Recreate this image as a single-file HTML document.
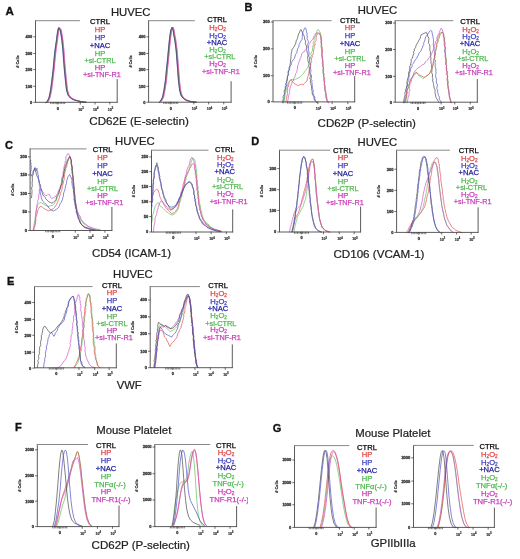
<!DOCTYPE html>
<html><head><meta charset="utf-8"><style>
html,body{margin:0;padding:0;background:#fff;}
body{width:520px;height:559px;overflow:hidden;}
svg{display:block;font-family:"Liberation Sans", sans-serif;filter:blur(0.25px);}
svg path{fill:none;stroke-width:0.7;stroke-linejoin:round;stroke-linecap:round;}
svg path.ax{stroke:#484848;stroke-width:0.9;}
svg path.tp{stroke:#888;stroke-width:1;}
svg path.tk{stroke:#484848;stroke-width:0.8;}
svg path.mt{stroke:#444;stroke-width:0.7;}
svg text.lg{stroke-width:0.3;paint-order:stroke;}
svg text.tt{stroke-width:0.25;}
</style></head><body>
<svg width="520" height="559" viewBox="0 0 520 559">
<path d="M46.6 102.5 L48 101.5 L49.9 97 L51.3 90 L52.6 80 L53.8 70 L54.7 60 L55.75 50 L57.2 40 L57.8 35 L58.6 30 L59.3 27.7 L60.9 30 L61.8 35 L62.55 40 L63.6 50 L64.3 60 L65.1 70 L66.1 80 L67.2 90 L68.7 95 L71.1 98 L74.9 100 L80.7 101.5 L86.3 102.3" stroke="#e05050" />
<path d="M46.2 102.5 L47.6 101.5 L49.5 97 L50.9 90 L52.2 80 L53.4 70 L54.3 60 L55.35 50 L56.8 40 L57.4 35 L58.2 30 L58.9 27.7 L60.5 30 L61.4 35 L62.15 40 L63.2 50 L63.9 60 L64.7 70 L65.7 80 L66.8 90 L68.3 95 L70.7 98 L74.5 100 L80.3 101.5 L85.9 102.3" stroke="#60c060" />
<path d="M45.8 102.5 L47.2 101.5 L49.1 97 L50.5 90 L51.8 80 L53 70 L53.9 60 L54.95 50 L56.4 40 L57 35 L57.8 30 L58.5 27.7 L60.1 30 L61 35 L61.75 40 L62.8 50 L63.5 60 L64.3 70 L65.3 80 L66.4 90 L67.9 95 L70.3 98 L74.1 100 L79.9 101.5 L85.5 102.3" stroke="#5050c8" />
<path d="M47 102.5 L48.4 101.5 L50.3 97 L51.7 90 L53 80 L54.2 70 L55.1 60 L56.15 50 L57.6 40 L58.2 35 L59 30 L59.7 27.7 L61.3 30 L62.2 35 L62.95 40 L64 50 L64.7 60 L65.5 70 L66.5 80 L67.6 90 L69.1 95 L71.5 98 L75.3 100 L81.1 101.5 L86.7 102.3" stroke="#d050c8" />
<path d="M46 102.5 L47.4 101.5 L49.3 97 L50.7 90 L52 80 L53.2 70 L54.1 60 L55.15 50 L56.6 40 L57.2 35 L58 30 L58.7 27.7 L60.3 30 L61.2 35 L61.95 40 L63 50 L63.7 60 L64.5 70 L65.5 80 L66.6 90 L68.1 95 L70.5 98 L74.3 100 L80.1 101.5 L85.7 102.3" stroke="#484848" />
<path class="ax" d="M35.5 20.7 V102.3 H117.2" />
<path class="tp" d="M35.5 20.7 H79.5" />
<path class="ax" d="M117.2 79.5 V102.3" />
<path class="tk" d="M33.7 36.8 H35.5" />
<text x="32.3" y="38.2" fill="#333" font-size="4" text-anchor="end" font-weight="bold" stroke="#333" stroke-width="0.3">400</text>
<path class="tk" d="M33.7 53.5 H35.5" />
<text x="32.3" y="54.9" fill="#333" font-size="4" text-anchor="end" font-weight="bold" stroke="#333" stroke-width="0.3">300</text>
<path class="tk" d="M33.7 69.6 H35.5" />
<text x="32.3" y="71" fill="#333" font-size="4" text-anchor="end" font-weight="bold" stroke="#333" stroke-width="0.3">200</text>
<path class="tk" d="M33.7 86.3 H35.5" />
<text x="32.3" y="87.7" fill="#333" font-size="4" text-anchor="end" font-weight="bold" stroke="#333" stroke-width="0.3">100</text>
<path class="tk" d="M33.7 102.3 H35.5" />
<text x="32.3" y="103.7" fill="#333" font-size="4" text-anchor="end" font-weight="bold" stroke="#333" stroke-width="0.3">0</text>
<text x="0" y="0" font-size="3.8" font-weight="bold" fill="#333" stroke="#333" stroke-width="0.2" text-anchor="middle" transform="translate(19 61.5) rotate(-90)"># Cells</text>
<path class="tk" d="M57.7 102.3 V104.1" />
<text x="57.7" y="109.7" fill="#333" font-size="3.8" text-anchor="middle" font-weight="bold" stroke="#333" stroke-width="0.3">0</text>
<path class="tk" d="M80.25 102.3 V104.1" />
<text x="78.25" y="110.5" font-size="3.6" font-weight="bold" fill="#333" stroke="#333" stroke-width="0.2" text-anchor="start">10<tspan font-size="2.6" dy="-1.6">3</tspan></text>
<path class="tk" d="M95.05 102.3 V104.1" />
<text x="93.05" y="110.5" font-size="3.6" font-weight="bold" fill="#333" stroke="#333" stroke-width="0.2" text-anchor="start">10<tspan font-size="2.6" dy="-1.6">4</tspan></text>
<path class="tk" d="M109.85 102.3 V104.1" />
<text x="107.85" y="110.5" font-size="3.6" font-weight="bold" fill="#333" stroke="#333" stroke-width="0.2" text-anchor="start">10<tspan font-size="2.6" dy="-1.6">5</tspan></text>
<path class="mt" d="M50.7 102.3 V103.7" />
<path class="mt" d="M52.2 102.3 V103.7" />
<path class="mt" d="M53.7 102.3 V103.7" />
<path class="mt" d="M55.2 102.3 V103.7" />
<path class="mt" d="M56.7 102.3 V103.7" />
<path class="mt" d="M58.7 102.3 V103.7" />
<path class="mt" d="M60.2 102.3 V103.7" />
<path class="mt" d="M61.7 102.3 V103.7" />
<path class="mt" d="M63.2 102.3 V103.7" />
<path class="mt" d="M64.7 102.3 V103.7" />
<text x="100" y="24.4" fill="#000" font-size="7.6" text-anchor="middle" font-weight="normal" stroke="#000" stroke-width="0.25">CTRL</text>
<text x="100" y="32.05" fill="#e04848" font-size="7.6" text-anchor="middle" font-weight="normal" stroke="#e04848" stroke-width="0.25">HP</text>
<text x="100" y="39.9" fill="#4040c0" font-size="7.6" text-anchor="middle" font-weight="normal" stroke="#4040c0" stroke-width="0.25">HP</text>
<text x="100" y="48.05" fill="#1c1c98" font-size="7.6" text-anchor="middle" font-weight="normal" stroke="#1c1c98" stroke-width="0.25">+NAC</text>
<text x="100" y="55.9" fill="#50b850" font-size="7.6" text-anchor="middle" font-weight="normal" stroke="#50b850" stroke-width="0.25">HP</text>
<text x="100" y="63.1" fill="#50b850" font-size="7.6" text-anchor="middle" font-weight="normal" textLength="31.2" lengthAdjust="spacingAndGlyphs" stroke="#50b850" stroke-width="0.25">+si-CTRL</text>
<text x="100" y="69.8" fill="#c840b8" font-size="7.6" text-anchor="middle" font-weight="normal" stroke="#c840b8" stroke-width="0.25">HP</text>
<text x="101.9" y="76.8" fill="#c840b8" font-size="7.6" text-anchor="middle" font-weight="normal" textLength="37.8" lengthAdjust="spacingAndGlyphs" stroke="#c840b8" stroke-width="0.25">+si-TNF-R1</text>
<path d="M159.9 102.3 L161.3 101 L163.3 97 L164.7 90 L166.2 80 L167.1 70 L168.2 60 L169.1 50 L170.1 40 L170.7 35 L171.5 30 L172.8 27.4 L173.8 30 L174.5 35 L175.5 40 L176.8 50 L177.6 60 L178.4 70 L179.1 80 L180.3 90 L181.55 95 L183.5 98 L186.3 100 L190.7 101.5 L196.3 102.2" stroke="#e05050" />
<path d="M159.5 102.3 L160.9 101 L162.9 97 L164.3 90 L165.8 80 L166.7 70 L167.8 60 L168.7 50 L169.7 40 L170.3 35 L171.1 30 L172.4 27.4 L173.4 30 L174.1 35 L175.1 40 L176.4 50 L177.2 60 L178 70 L178.7 80 L179.9 90 L181.15 95 L183.1 98 L185.9 100 L190.3 101.5 L195.9 102.2" stroke="#60c060" />
<path d="M159.1 102.3 L160.5 101 L162.5 97 L163.9 90 L165.4 80 L166.3 70 L167.4 60 L168.3 50 L169.3 40 L169.9 35 L170.7 30 L172 27.4 L173 30 L173.7 35 L174.7 40 L176 50 L176.8 60 L177.6 70 L178.3 80 L179.5 90 L180.75 95 L182.7 98 L185.5 100 L189.9 101.5 L195.5 102.2" stroke="#5050c8" />
<path d="M160.3 102.3 L161.7 101 L163.7 97 L165.1 90 L166.6 80 L167.5 70 L168.6 60 L169.5 50 L170.5 40 L171.1 35 L171.9 30 L173.2 27.4 L174.2 30 L174.9 35 L175.9 40 L177.2 50 L178 60 L178.8 70 L179.5 80 L180.7 90 L181.95 95 L183.9 98 L186.7 100 L191.1 101.5 L196.7 102.2" stroke="#d050c8" />
<path d="M159.3 102.3 L160.7 101 L162.7 97 L164.1 90 L165.6 80 L166.5 70 L167.6 60 L168.5 50 L169.5 40 L170.1 35 L170.9 30 L172.2 27.4 L173.2 30 L173.9 35 L174.9 40 L176.2 50 L177 60 L177.8 70 L178.5 80 L179.7 90 L180.95 95 L182.9 98 L185.7 100 L190.1 101.5 L195.7 102.2" stroke="#484848" />
<path class="ax" d="M148.6 20.7 V102.2 H231.1" />
<path class="tp" d="M148.6 20.7 H194.5" />
<path class="ax" d="M231.1 81.6 V102.2" />
<path class="tk" d="M146.8 36.8 H148.6" />
<text x="145.4" y="38.2" fill="#333" font-size="4" text-anchor="end" font-weight="bold" stroke="#333" stroke-width="0.3">400</text>
<path class="tk" d="M146.8 53.5 H148.6" />
<text x="145.4" y="54.9" fill="#333" font-size="4" text-anchor="end" font-weight="bold" stroke="#333" stroke-width="0.3">300</text>
<path class="tk" d="M146.8 69.6 H148.6" />
<text x="145.4" y="71" fill="#333" font-size="4" text-anchor="end" font-weight="bold" stroke="#333" stroke-width="0.3">200</text>
<path class="tk" d="M146.8 86.3 H148.6" />
<text x="145.4" y="87.7" fill="#333" font-size="4" text-anchor="end" font-weight="bold" stroke="#333" stroke-width="0.3">100</text>
<path class="tk" d="M146.8 102.2 H148.6" />
<text x="145.4" y="103.6" fill="#333" font-size="4" text-anchor="end" font-weight="bold" stroke="#333" stroke-width="0.3">0</text>
<text x="0" y="0" font-size="3.8" font-weight="bold" fill="#333" stroke="#333" stroke-width="0.2" text-anchor="middle" transform="translate(132.1 61.45) rotate(-90)"># Cells</text>
<path class="tk" d="M170.8 102.2 V104" />
<text x="170.8" y="109.6" fill="#333" font-size="3.8" text-anchor="middle" font-weight="bold" stroke="#333" stroke-width="0.3">0</text>
<path class="tk" d="M193.85 102.2 V104" />
<text x="191.85" y="110.4" font-size="3.6" font-weight="bold" fill="#333" stroke="#333" stroke-width="0.2" text-anchor="start">10<tspan font-size="2.6" dy="-1.6">3</tspan></text>
<path class="tk" d="M208.65 102.2 V104" />
<text x="206.65" y="110.4" font-size="3.6" font-weight="bold" fill="#333" stroke="#333" stroke-width="0.2" text-anchor="start">10<tspan font-size="2.6" dy="-1.6">4</tspan></text>
<path class="tk" d="M223.75 102.2 V104" />
<text x="221.75" y="110.4" font-size="3.6" font-weight="bold" fill="#333" stroke="#333" stroke-width="0.2" text-anchor="start">10<tspan font-size="2.6" dy="-1.6">5</tspan></text>
<path class="mt" d="M163.8 102.2 V103.6" />
<path class="mt" d="M165.3 102.2 V103.6" />
<path class="mt" d="M166.8 102.2 V103.6" />
<path class="mt" d="M168.3 102.2 V103.6" />
<path class="mt" d="M169.8 102.2 V103.6" />
<path class="mt" d="M171.8 102.2 V103.6" />
<path class="mt" d="M173.3 102.2 V103.6" />
<path class="mt" d="M174.8 102.2 V103.6" />
<path class="mt" d="M176.3 102.2 V103.6" />
<path class="mt" d="M177.8 102.2 V103.6" />
<text x="217.1" y="21.8" fill="#000" font-size="7.6" text-anchor="middle" font-weight="normal" stroke="#000" stroke-width="0.25">CTRL</text>
<text x="217.6" y="29.8" fill="#e04848" font-size="7.6" text-anchor="middle" font-weight="normal" stroke="#e04848" stroke-width="0.25">H<tspan font-size="4.71" dy="1">2</tspan><tspan dy="-1">O</tspan><tspan font-size="4.71" dy="1">2</tspan></text>
<text x="217.6" y="37.5" fill="#4040c0" font-size="7.6" text-anchor="middle" font-weight="normal" stroke="#4040c0" stroke-width="0.25">H<tspan font-size="4.71" dy="1">2</tspan><tspan dy="-1">O</tspan><tspan font-size="4.71" dy="1">2</tspan></text>
<text x="217.1" y="44.5" fill="#1c1c98" font-size="7.6" text-anchor="middle" font-weight="normal" stroke="#1c1c98" stroke-width="0.25">+NAC</text>
<text x="217.6" y="51.8" fill="#50b850" font-size="7.6" text-anchor="middle" font-weight="normal" stroke="#50b850" stroke-width="0.25">H<tspan font-size="4.71" dy="1">2</tspan><tspan dy="-1">O</tspan><tspan font-size="4.71" dy="1">2</tspan></text>
<text x="219.8" y="59.2" fill="#50b850" font-size="7.6" text-anchor="middle" font-weight="normal" textLength="31.2" lengthAdjust="spacingAndGlyphs" stroke="#50b850" stroke-width="0.25">+si-CTRL</text>
<text x="217.6" y="66" fill="#c840b8" font-size="7.6" text-anchor="middle" font-weight="normal" stroke="#c840b8" stroke-width="0.25">H<tspan font-size="4.71" dy="1">2</tspan><tspan dy="-1">O</tspan><tspan font-size="4.71" dy="1">2</tspan></text>
<text x="221" y="73.7" fill="#c840b8" font-size="7.6" text-anchor="middle" font-weight="normal" textLength="37.8" lengthAdjust="spacingAndGlyphs" stroke="#c840b8" stroke-width="0.25">+si-TNF-R1</text>
<path d="M282.47 102.76 L282.73 101.31 L283 99.87 L283.26 98.43 L283.03 96.56 L283.34 95.85 L284.53 94.13 L284.33 92.65 L284.07 91.55 L284.75 89.93 L285.57 87.99 L285.03 87.2 L286.08 85.17 L285.42 84.51 L286.49 82.3 L286.31 81.49 L286.66 80.21 L287.54 78.08 L287.14 77.1 L288.18 75.65 L288.44 73.4 L288.23 72.71 L289.02 70.46 L289 69.32 L289.15 67.46 L290.03 65.64 L290.03 64.95 L290.22 63.54 L290.41 61.91 L290.55 59.99 L290.98 58.26 L290.92 56.61 L291.26 55.03 L291.03 54.21 L291.25 53.44 L291.8 51.4 L291.8 49.88 L293.04 48.09 L293.66 47.55 L294.16 46.43 L295.22 44.44 L295.9 43 L296.06 41.08 L296.77 39.77 L297.4 38.7 L297.62 37.29 L298.33 35.11 L298.48 34.05 L299.8 31.9 L299.88 30.44 L301.13 29.66 L302.22 32 L302.84 33.75 L303.77 35.11 L304.33 36.83 L304.55 38.22 L304.45 38.94 L305.62 40.94 L305.38 42.59 L305.33 43.8 L306.1 45.22 L306.51 46 L306.45 47.63 L306.65 49.52 L306.8 50.44 L307.13 52.12 L307.81 53.42 L307.98 55.56 L307.66 56.88 L307.75 58.57 L308.02 60.59 L308.26 61.98 L309 63.57 L309.05 64.17 L308.64 65.61 L309.36 67.46 L309.21 69.32 L309.75 70.05 L309.01 71.94 L309.82 73.62 L310.02 74.26 L310.53 76.79 L309.87 78.09 L309.92 79.13 L310.73 79.84 L310.3 82.25 L310.77 83.32 L311.11 85.19 L311.57 86.06 L311.56 88.48 L311.76 90.24 L312.25 91.64 L312.13 92.77 L312.33 94.21 L313.26 95.82 L313.9 96.84 L314.07 98.87 L314.66 100.43 L315.82 101.59 L316.99 102.76" stroke="#484848" />
<path d="M283.55 102.76 L283.78 101.31 L284 99.87 L284.22 98.43 L284.38 96.81 L284.5 95.13 L284.59 94.26 L285.11 92.65 L285.07 91.18 L286.07 88.96 L285.36 88.61 L286.3 85.92 L286.8 84.75 L286.66 83.32 L286.89 81.66 L287.44 80.33 L287.27 78.3 L287.3 77.39 L287.63 76.12 L288.22 73.6 L288.07 73.07 L288.22 70.88 L289.42 69.65 L289.77 67.77 L290.07 66.12 L291.33 64.66 L291.32 62.55 L292.17 61.72 L292.88 59.99 L294.44 58.44 L294.85 56.75 L295.5 54.71 L296 53.77 L296.79 52.86 L297.05 51.13 L297.55 49.1 L298.41 47.44 L298.81 46.6 L299.11 44.44 L300.1 42.66 L300.66 41.33 L301.91 39.77 L302.22 37.44 L302.27 36.6 L302.43 33.96 L302.83 32.75 L303.11 31.68 L303.77 30.44 L304.27 28.63 L305.33 27.64 L305.76 28.71 L306.42 30.44 L306.52 31.8 L307.3 34.08 L306.7 34.49 L307.35 36.66 L306.98 38.77 L308.03 40.36 L308.26 41.16 L308.28 42.88 L307.5 44.53 L308.43 46.52 L308.43 48.01 L308.44 49.1 L308.54 50.62 L308.83 51.76 L309.17 53.62 L308.77 55.07 L308.74 56.33 L309.77 57.95 L309.53 59.99 L309.69 61.55 L310.21 63.59 L310.51 65.13 L310.61 65.88 L310.13 67.86 L310.98 69.92 L310.85 71.34 L310.77 72.43 L310.48 73.42 L311.27 74.95 L311.54 77.04 L311.15 78.42 L311.3 79.4 L312.17 80.68 L311.62 81.6 L312.1 83.14 L312.12 84.48 L312.33 86.43 L312.37 88.13 L312.78 89.18 L313.35 90.95 L312.84 92.23 L313.62 94.41 L313.88 95.76 L314.84 97.07 L314.92 98.87 L315.44 100.43 L316.6 101.59 L317.77 102.76" stroke="#5050c8" />
<path d="M283.55 102.76 L283.89 101.31 L284.22 99.87 L284.55 98.43 L284.96 97.12 L285.1 95.09 L285.09 93.99 L285.89 92.65 L286.2 91.16 L285.97 89.94 L286.47 88.36 L287.57 86.01 L287.44 84.87 L288.15 83.68 L289 81.76 L290.55 80.21 L292.11 79.43 L293.66 80.21 L295.22 79.43 L296.77 78.65 L298.33 77.88 L299.88 77.1 L301.44 75.54 L302.99 73.99 L303.82 73.2 L304.55 71.65 L305.88 70.48 L306.1 69.32 L307.66 67.77 L307.76 66.61 L308.8 65.09 L309.21 63.1 L309.87 61.06 L309.48 60 L310.26 58.73 L310.77 56.88 L311.23 55.33 L310.93 54.3 L311.16 52.09 L312.52 51 L312.33 49.1 L312.8 47.22 L312.57 46.06 L313.67 44.92 L313.02 43.14 L313.88 41.33 L314.02 40.41 L314.12 37.87 L314.82 37.29 L315.44 35.11 L316.19 34.25 L316.88 32.18 L316.99 30.44 L318.55 29.66 L319.55 31.42 L320.1 32 L320.23 33.11 L320.74 35.59 L320.35 36.9 L320.88 38.22 L320.78 39.09 L321.6 41.97 L320.98 42.25 L321.86 44.22 L320.98 46.03 L321.1 47.17 L321.66 49.1 L321.82 51.11 L321.9 52.63 L321.83 53.96 L322.04 55.03 L322.09 56.66 L322.42 58.61 L322.57 60.31 L322.43 61.55 L322.32 63.55 L323.01 64.82 L322.78 66.11 L323.11 67.04 L323.24 69.22 L322.63 69.64 L323.14 71.93 L322.82 73.42 L323.97 74.34 L323.52 75.54 L323.98 76.88 L324.13 78.46 L323.54 80.24 L324.69 81.59 L324.41 83.51 L323.96 84.88 L325.16 86.56 L324.77 87.98 L324.65 90.05 L325.29 91.1 L325.6 92.12 L325.35 93.82 L325.37 96.1 L325.55 97.8 L326.32 98.87 L327.1 100.81 L327.88 102.76" stroke="#60c060" />
<path d="M285.89 102.76 L286.08 101.3 L286.28 99.84 L286.47 98.38 L286.79 96.81 L287.1 96.09 L287.38 93.45 L287.57 92.23 L287.44 91.09 L287.71 90.19 L287.52 87.8 L288.46 86.55 L288.69 84.87 L289.13 82.7 L289.77 80.99 L291.02 79.43 L292.42 81.76 L293.97 83.32 L295.22 84.1 L296.77 84.87 L298.33 85.65 L299.88 84.87 L301.44 84.1 L302.99 84.87 L304.55 83.32 L306.1 81.76 L307 80.81 L307.36 78.37 L307.66 77.1 L308.42 75.48 L308.48 73.5 L309.21 72.43 L309.35 70.32 L309.43 69.82 L310.68 67.35 L310.42 66.27 L310.77 64.66 L310.79 63.3 L311.86 61.07 L311.31 60.33 L311.56 58.2 L312.33 56.88 L312.15 55.5 L313.21 53.91 L313.35 52.48 L313.46 51.14 L313.88 49.1 L314.23 47.61 L314.18 45.4 L315.17 45.11 L314.82 42.26 L315.44 41.33 L316.19 40.47 L316.02 38.35 L316.32 36.01 L316.99 35.11 L317.73 33.75 L318.55 32.77 L320.1 33.55 L320.18 34.8 L321.26 36.9 L321.19 38.22 L321.78 40.33 L321.05 41.67 L321.5 42.82 L321.77 44.22 L321.3 45.64 L322.23 47.39 L322.12 49.1 L322.66 50.99 L322.19 52.12 L321.94 54.21 L321.98 55.81 L322.06 57.17 L322.27 58.8 L323.07 60.68 L322.9 61.55 L322.73 63.16 L322.76 64.32 L323.08 66.37 L323.72 68.08 L323.31 69.68 L323.91 70.26 L323.28 71.79 L323.83 73.99 L323.51 76.01 L323.62 76.77 L324.7 78.45 L324.54 80.49 L324.64 81.93 L324.33 83.29 L325.06 85.33 L324.77 86.43 L325.38 88.28 L324.92 89.48 L325.9 91.27 L325.81 92.87 L326.32 93.71 L326.01 95.76 L326.83 96.94 L326.74 98.87 L327.1 100.43 L327.88 101.59 L328.65 102.76" stroke="#e05050" />
<path d="M287.44 102.76 L287.7 101.33 L287.96 99.91 L288.22 98.48 L288.33 97.43 L288.72 95.96 L289 94.21 L289.8 92.58 L289.5 91.48 L289.86 89.31 L290.06 88.16 L290.55 86.43 L291.16 84.93 L291.72 83.46 L292.11 81.76 L293.37 80.54 L293.66 78.65 L294.96 76.92 L295.22 75.54 L295.61 73.81 L296.77 72.43 L296.94 71.04 L297.21 69.58 L297.47 68.12 L297.5 65.87 L298.33 64.66 L298.5 63.54 L299.19 61.28 L299.88 59.99 L300.07 58.75 L300.86 57.31 L301.44 55.33 L301.81 53.63 L302.99 52.21 L304.55 51.44 L304.79 50.53 L306.1 49.1 L306.84 48.18 L307.66 46.77 L308.35 45.71 L309.21 44.44 L309.84 43.18 L310.77 41.33 L312.33 39.77 L312.99 38.88 L313.88 36.66 L315.01 35.31 L315.44 33.55 L316.99 32.77 L318.55 33.55 L320.1 35.11 L320.9 36.15 L321.11 38.2 L320.88 39.77 L321.35 41.14 L320.91 42.96 L321.45 44.93 L321.38 45.8 L321.66 47.55 L321.65 49.52 L321.43 50.18 L322.08 52.32 L321.85 53.13 L321.99 55.09 L322.43 56.88 L322.66 58.89 L322.09 59.85 L323.03 61.25 L322.99 63.05 L323.22 64.47 L322.59 66.09 L323.44 67.86 L323.21 69.32 L323.32 71.42 L323.31 72.64 L324 73.11 L323.79 74.75 L323.93 76.72 L323.76 77.82 L323.7 79.17 L323.88 79.9 L324.12 81.43 L324.46 83.32 L324.45 84.76 L324.73 86.85 L324.59 88.18 L324.99 89.43 L325 90.98 L325.54 92.65 L325.96 94.6 L326.4 95.49 L326.32 96.74 L326.79 98.87 L327.1 100.43 L327.88 101.59 L328.65 102.76" stroke="#d050c8" />
<path class="ax" d="M273 20.7 V101.9 H354.7" />
<path class="tp" d="M273 20.7 H331.2" />
<path class="ax" d="M354.7 76.5 V101.9" />
<path class="tk" d="M271.2 22 H273" />
<text x="269.8" y="23.4" fill="#333" font-size="4" text-anchor="end" font-weight="bold" stroke="#333" stroke-width="0.3">300</text>
<path class="tk" d="M271.2 48.8 H273" />
<text x="269.8" y="50.2" fill="#333" font-size="4" text-anchor="end" font-weight="bold" stroke="#333" stroke-width="0.3">200</text>
<path class="tk" d="M271.2 75.7 H273" />
<text x="269.8" y="77.1" fill="#333" font-size="4" text-anchor="end" font-weight="bold" stroke="#333" stroke-width="0.3">100</text>
<path class="tk" d="M271.2 101.7 H273" />
<text x="269.8" y="103.1" fill="#333" font-size="4" text-anchor="end" font-weight="bold" stroke="#333" stroke-width="0.3">0</text>
<text x="0" y="0" font-size="3.8" font-weight="bold" fill="#333" stroke="#333" stroke-width="0.2" text-anchor="middle" transform="translate(256.5 61.3) rotate(-90)"># Cells</text>
<path class="tk" d="M294.7 101.9 V103.7" />
<text x="294.7" y="109.3" fill="#333" font-size="3.8" text-anchor="middle" font-weight="bold" stroke="#333" stroke-width="0.3">0</text>
<path class="tk" d="M317.85 101.9 V103.7" />
<text x="315.85" y="110.1" font-size="3.6" font-weight="bold" fill="#333" stroke="#333" stroke-width="0.2" text-anchor="start">10<tspan font-size="2.6" dy="-1.6">3</tspan></text>
<path class="tk" d="M332.15 101.9 V103.7" />
<text x="330.15" y="110.1" font-size="3.6" font-weight="bold" fill="#333" stroke="#333" stroke-width="0.2" text-anchor="start">10<tspan font-size="2.6" dy="-1.6">4</tspan></text>
<path class="tk" d="M347.85 101.9 V103.7" />
<text x="345.85" y="110.1" font-size="3.6" font-weight="bold" fill="#333" stroke="#333" stroke-width="0.2" text-anchor="start">10<tspan font-size="2.6" dy="-1.6">5</tspan></text>
<path class="mt" d="M287.7 101.9 V103.3" />
<path class="mt" d="M289.2 101.9 V103.3" />
<path class="mt" d="M290.7 101.9 V103.3" />
<path class="mt" d="M292.2 101.9 V103.3" />
<path class="mt" d="M293.7 101.9 V103.3" />
<path class="mt" d="M295.7 101.9 V103.3" />
<path class="mt" d="M297.2 101.9 V103.3" />
<path class="mt" d="M298.7 101.9 V103.3" />
<path class="mt" d="M300.2 101.9 V103.3" />
<path class="mt" d="M301.7 101.9 V103.3" />
<text x="350" y="22.5" fill="#000" font-size="7.6" text-anchor="middle" font-weight="normal" stroke="#000" stroke-width="0.25">CTRL</text>
<text x="350" y="30.15" fill="#e04848" font-size="7.6" text-anchor="middle" font-weight="normal" stroke="#e04848" stroke-width="0.25">HP</text>
<text x="350" y="38" fill="#4040c0" font-size="7.6" text-anchor="middle" font-weight="normal" stroke="#4040c0" stroke-width="0.25">HP</text>
<text x="350" y="46.15" fill="#1c1c98" font-size="7.6" text-anchor="middle" font-weight="normal" stroke="#1c1c98" stroke-width="0.25">+NAC</text>
<text x="350" y="54" fill="#50b850" font-size="7.6" text-anchor="middle" font-weight="normal" stroke="#50b850" stroke-width="0.25">HP</text>
<text x="350" y="61.2" fill="#50b850" font-size="7.6" text-anchor="middle" font-weight="normal" textLength="31.2" lengthAdjust="spacingAndGlyphs" stroke="#50b850" stroke-width="0.25">+si-CTRL</text>
<text x="350" y="67.9" fill="#c840b8" font-size="7.6" text-anchor="middle" font-weight="normal" stroke="#c840b8" stroke-width="0.25">HP</text>
<text x="351.9" y="74.9" fill="#c840b8" font-size="7.6" text-anchor="middle" font-weight="normal" textLength="37.8" lengthAdjust="spacingAndGlyphs" stroke="#c840b8" stroke-width="0.25">+si-TNF-R1</text>
<path d="M403.44 102.76 L403.7 101.33 L403.96 99.91 L404.22 98.48 L404.47 97.16 L405.23 95.09 L405 94.21 L404.84 92.31 L405.73 91.73 L405.46 89.54 L406.43 88.21 L406.55 86.43 L407.13 84.98 L406.92 82.69 L407.11 81.15 L407.4 80.02 L407.73 78.53 L408.11 77.1 L408.88 76.05 L408.5 73.57 L408.87 71.99 L409.3 71.07 L409.66 69.32 L409.85 68.21 L409.75 65.86 L410.41 65.25 L410.77 63.39 L411.22 61.55 L411.19 59.45 L412.21 58.29 L412.77 56.88 L412.82 56.02 L413.93 53.25 L413.42 51.74 L414.36 51.04 L414.33 49.1 L415.56 47.56 L415.88 45.99 L416.55 44.58 L417.44 42.88 L418.51 41.35 L419 39.77 L420.13 38.81 L420.55 36.66 L421.1 34.86 L422.11 34.33 L423.66 33.55 L425.22 32.77 L426.77 32.77 L427.55 35.11 L427.9 36.69 L428.91 38.27 L428.79 39.77 L428.58 41.87 L428.68 43.34 L429.61 44.61 L429.94 46.25 L429.82 47.89 L429.88 49.1 L429.68 50.14 L430.6 52.13 L430.34 54.07 L430.85 55.75 L430.5 57.38 L431.23 57.9 L430.75 59.32 L430.97 61.55 L431.15 63.66 L431.71 64.34 L431.33 66.57 L432.05 68.27 L431.71 69.78 L431.99 70.69 L431.66 72.45 L432.21 73.99 L432.55 75 L432.36 77.4 L432.86 78.46 L432.56 80.91 L433.18 82.46 L433.46 83.32 L433.57 84.66 L433.76 85.78 L434.3 88.66 L434.87 89.05 L435.16 91.29 L435.01 92.65 L435.2 93.82 L435.81 96.07 L435.86 97.34 L436.88 98.87 L437.66 100.17 L438.44 101.46 L439.21 102.76" stroke="#484848" />
<path d="M404.22 102.76 L404.53 101.36 L404.84 99.96 L405.15 98.56 L406.02 97.71 L405.78 95.76 L406.32 94.9 L406.83 93.26 L406.78 91.6 L406.93 88.9 L406.56 87.43 L407.33 86.43 L407.64 84.8 L407.5 83.87 L407.6 82.36 L408.9 80.5 L408.78 78.08 L408.89 77.1 L409.28 75.12 L409.23 74.16 L409.8 72.11 L410.44 70.88 L410.37 69.63 L410.93 68.07 L412.03 66.59 L412 64.66 L413.55 63.1 L414.58 61.06 L415.11 59.99 L416.66 58.44 L417.19 56.84 L418.22 55.33 L418.97 53.14 L419.77 52.21 L421.33 50.66 L421.35 49.27 L422.37 47.88 L422.88 45.99 L423.93 44.27 L423.54 43.3 L424.44 41.33 L425.1 39.54 L425.2 38.13 L425.99 36.66 L426.77 35.63 L427.55 34.33 L428.49 33.37 L429.1 32 L430.66 30.44 L431.9 31.22 L432.15 33.23 L432.53 34.99 L432.99 36.66 L432.93 37.59 L433.57 39.24 L433.5 41.38 L433.36 43.11 L433.23 45.02 L433.91 46.13 L434.05 48.12 L434.08 49.1 L433.84 50.24 L434.81 51.45 L434.58 53.25 L434.63 55.2 L434.47 56.78 L434.83 57.96 L434.33 59.31 L435.32 59.98 L435.22 62.1 L434.96 62.69 L435.33 64.66 L434.98 66.3 L435.47 66.99 L435.79 68.92 L436 69.99 L435.8 71.29 L436.12 73.12 L435.6 74.74 L435.69 75.59 L435.84 77.9 L436.58 79.12 L436.57 80.21 L436.28 81.3 L436.52 83.18 L437.58 85.03 L437.01 86.88 L436.8 88.57 L437.65 89.93 L437.66 91.09 L437.74 92.71 L438.25 94.51 L438.45 95.22 L439.35 96.86 L439.21 98.87 L439.99 100.17 L440.77 101.46 L441.55 102.76" stroke="#5050c8" />
<path d="M405.78 102.76 L406 101.31 L406.22 99.87 L406.44 98.43 L406.31 97.64 L407 95.07 L406.73 94.49 L407.33 92.65 L407.21 90.77 L407.9 88.87 L408.26 88.16 L408.47 87.12 L408.89 84.87 L409.12 83.59 L410.14 81.62 L410.44 80.21 L411.47 78.05 L412 77.1 L413.55 75.54 L414.89 74.73 L415.11 73.21 L416.66 72.43 L417.4 74.16 L418.22 74.77 L419.77 76.32 L421.33 77.1 L422.88 78.65 L424.44 77.88 L425.99 76.32 L427.55 75.54 L429.1 73.99 L430.66 72.43 L430.94 70.35 L432.13 69.8 L432.21 67.77 L432.53 66.06 L433.34 64.82 L433.31 63.59 L433.77 61.55 L433.72 59.56 L434.38 58.4 L435.09 56.62 L435.4 55.44 L435.33 53.77 L435.42 51.75 L435.96 50.85 L436.26 48.62 L436.4 47.06 L436.88 45.99 L436.79 44.46 L437.4 42.71 L438.6 41.68 L438.44 39.77 L439.4 37.98 L439.71 35.99 L439.99 35.11 L440.95 34.41 L441.55 32.77 L443.1 32.77 L443.3 34.22 L444.03 36.66 L444.73 37.74 L444.44 40.11 L444.67 41.13 L444.95 42.2 L444.91 43.95 L444.97 45.99 L445.17 47.25 L444.71 49.44 L444.8 50.68 L445.11 51.19 L445.42 53.41 L445.22 54.63 L445.98 56.27 L445.38 56.86 L446.54 59.18 L445.88 59.53 L446.21 61.55 L446.58 62.31 L446.07 64.61 L446.42 66.35 L446.18 67.45 L446.96 68.48 L446.6 70.06 L447.11 71.99 L447.24 73.42 L447 74.26 L447.64 75.68 L447.46 77.1 L447.49 78.42 L448.06 80.84 L448.03 81.72 L448.45 83.75 L447.85 84.51 L447.88 86.37 L448.18 87.4 L448.7 89.54 L448.51 90.63 L448.7 92.93 L449.78 94.68 L449.43 96.03 L450.15 97.51 L450.1 98.87 L450.88 100.81 L451.65 102.76" stroke="#60c060" />
<path d="M405 102.76 L405.26 101.33 L405.52 99.91 L405.78 98.48 L406.42 96.88 L406.3 96.28 L406.55 94.21 L406.73 92.11 L406.63 91.19 L407.2 89.08 L408.1 88.06 L408.11 86.43 L409.19 84.98 L409.66 82.7 L409.66 81.76 L410.69 80.07 L411.22 78.65 L412.48 76.85 L412.77 75.54 L414.33 73.99 L415.88 72.43 L417.44 73.21 L419 74.77 L420.55 75.54 L422.11 76.32 L423.66 77.1 L425.22 77.1 L426.77 75.54 L428.33 74.77 L429.18 74.07 L429.88 72.43 L430.7 70.84 L431.44 69.32 L432.31 67.18 L432.58 66.62 L432.99 64.66 L433.02 63.72 L433.34 61.68 L433.95 60.12 L433.97 59.07 L434.55 56.88 L434.58 55.25 L435.5 53.37 L434.99 51.64 L435.2 50.84 L436.05 48.74 L436.1 47.55 L436.94 46.06 L436.24 44.36 L436.74 43.48 L437.62 40.74 L437.66 39.77 L437.89 38.04 L439.22 35.97 L439.21 35.11 L439.84 33.29 L440.77 32.77 L442.32 32 L443.41 33.55 L443.24 35.18 L443.52 36.76 L444.48 37.91 L444.18 39.46 L444.35 41.33 L444.83 42.44 L444.78 45.14 L444.39 45.44 L445.41 47.52 L445.51 48.75 L445.03 51.2 L445.29 51.9 L445.43 53.77 L445.48 55.62 L445.28 56.79 L445.49 58.34 L445.99 59.89 L446.41 61.19 L446.18 62.13 L445.91 64.21 L446.66 64.91 L446.56 66.12 L446.25 67.98 L446.52 69.32 L446.23 70.05 L447.27 71.52 L446.91 73.34 L446.51 74.24 L447.53 75.98 L447.75 77.32 L446.96 78.89 L447.11 80.44 L448.11 81.79 L447.77 83.32 L447.46 84.69 L448.26 86.14 L448.2 88.1 L448.42 89.62 L448.71 91.48 L449.46 92.3 L449 94.41 L449.32 95.76 L449.21 96.59 L449.94 98.56 L450.26 99.96 L450.57 101.36 L450.88 102.76" stroke="#e05050" />
<path d="M407.33 102.76 L407.55 101.31 L407.78 99.87 L408 98.43 L407.94 97.34 L408.71 96.02 L409.17 94.14 L408.89 92.65 L409.61 90.94 L409.96 90.23 L409.22 88.28 L409.7 86.3 L409.64 85.4 L410.44 83.32 L410.97 82.44 L411.59 79.62 L412 78.65 L413.03 77.15 L413.15 76.05 L413.55 73.99 L414.02 72.4 L415.11 70.88 L416.66 69.32 L418.22 67.77 L419.77 66.99 L421.33 65.43 L422.88 64.66 L424.44 63.88 L425.2 62.06 L425.99 61.55 L427.55 59.99 L428 59.11 L429.1 57.66 L430.14 56.33 L430.66 55.33 L431.74 53.95 L432.21 52.21 L433.35 49.97 L433.77 48.33 L434.1 46.13 L434.35 45.28 L435.33 43.66 L435.19 41.87 L436.27 41.2 L437.02 39.92 L436.88 38.22 L437.56 36.33 L438.44 34.33 L439.5 32.23 L439.99 30.44 L441.23 28.11 L442.32 29.66 L442.94 32.27 L443.41 33.55 L444.01 35.59 L443.29 37.01 L443.95 38.26 L444.11 39.89 L444.07 40.89 L444.35 42.88 L443.95 44.75 L444.35 45.32 L444.85 47.47 L445.3 48.73 L444.74 49.84 L444.48 51.81 L444.99 53.16 L445.54 53.63 L444.88 56.17 L445.43 56.88 L445.8 57.92 L445.83 59.18 L446.03 61.03 L445.53 62.19 L445.47 64.45 L446.42 64.99 L446.53 66.22 L446.44 68.39 L446.24 69.17 L446.52 70.88 L447.09 72.73 L446.58 73.67 L447.44 74.41 L447.49 77.02 L447.18 78.29 L447.74 79.83 L447.49 80.2 L447.38 82.6 L447.55 84 L447.77 84.87 L448.14 85.93 L448.03 88.29 L448.81 89.52 L449.11 91.36 L449.12 92.17 L448.96 94.63 L449.32 95.76 L449.59 97.48 L449.94 98.56 L450.26 99.96 L450.57 101.36 L450.88 102.76" stroke="#d050c8" />
<path class="ax" d="M395.2 20.7 V102.2 H477.3" />
<path class="tp" d="M395.2 20.7 H453" />
<path class="ax" d="M477.3 79.5 V102.2" />
<path class="tk" d="M393.4 23 H395.2" />
<text x="392" y="24.4" fill="#333" font-size="4" text-anchor="end" font-weight="bold" stroke="#333" stroke-width="0.3">300</text>
<path class="tk" d="M393.4 49.5 H395.2" />
<text x="392" y="50.9" fill="#333" font-size="4" text-anchor="end" font-weight="bold" stroke="#333" stroke-width="0.3">200</text>
<path class="tk" d="M393.4 76.3 H395.2" />
<text x="392" y="77.7" fill="#333" font-size="4" text-anchor="end" font-weight="bold" stroke="#333" stroke-width="0.3">100</text>
<path class="tk" d="M393.4 102.2 H395.2" />
<text x="392" y="103.6" fill="#333" font-size="4" text-anchor="end" font-weight="bold" stroke="#333" stroke-width="0.3">0</text>
<text x="0" y="0" font-size="3.8" font-weight="bold" fill="#333" stroke="#333" stroke-width="0.2" text-anchor="middle" transform="translate(378.7 61.45) rotate(-90)"># Cells</text>
<path class="tk" d="M418 102.2 V104" />
<text x="418" y="109.6" fill="#333" font-size="3.8" text-anchor="middle" font-weight="bold" stroke="#333" stroke-width="0.3">0</text>
<path class="tk" d="M441.05 102.2 V104" />
<text x="439.05" y="110.4" font-size="3.6" font-weight="bold" fill="#333" stroke="#333" stroke-width="0.2" text-anchor="start">10<tspan font-size="2.6" dy="-1.6">3</tspan></text>
<path class="tk" d="M454.75 102.2 V104" />
<text x="452.75" y="110.4" font-size="3.6" font-weight="bold" fill="#333" stroke="#333" stroke-width="0.2" text-anchor="start">10<tspan font-size="2.6" dy="-1.6">4</tspan></text>
<path class="tk" d="M470.25 102.2 V104" />
<text x="468.25" y="110.4" font-size="3.6" font-weight="bold" fill="#333" stroke="#333" stroke-width="0.2" text-anchor="start">10<tspan font-size="2.6" dy="-1.6">5</tspan></text>
<path class="mt" d="M411 102.2 V103.6" />
<path class="mt" d="M412.5 102.2 V103.6" />
<path class="mt" d="M414 102.2 V103.6" />
<path class="mt" d="M415.5 102.2 V103.6" />
<path class="mt" d="M417 102.2 V103.6" />
<path class="mt" d="M419 102.2 V103.6" />
<path class="mt" d="M420.5 102.2 V103.6" />
<path class="mt" d="M422 102.2 V103.6" />
<path class="mt" d="M423.5 102.2 V103.6" />
<path class="mt" d="M425 102.2 V103.6" />
<text x="470.1" y="23.5" fill="#000" font-size="7.6" text-anchor="middle" font-weight="normal" stroke="#000" stroke-width="0.25">CTRL</text>
<text x="470.6" y="31.5" fill="#e04848" font-size="7.6" text-anchor="middle" font-weight="normal" stroke="#e04848" stroke-width="0.25">H<tspan font-size="4.71" dy="1">2</tspan><tspan dy="-1">O</tspan><tspan font-size="4.71" dy="1">2</tspan></text>
<text x="470.6" y="39.2" fill="#4040c0" font-size="7.6" text-anchor="middle" font-weight="normal" stroke="#4040c0" stroke-width="0.25">H<tspan font-size="4.71" dy="1">2</tspan><tspan dy="-1">O</tspan><tspan font-size="4.71" dy="1">2</tspan></text>
<text x="470.1" y="46.2" fill="#1c1c98" font-size="7.6" text-anchor="middle" font-weight="normal" stroke="#1c1c98" stroke-width="0.25">+NAC</text>
<text x="470.6" y="53.5" fill="#50b850" font-size="7.6" text-anchor="middle" font-weight="normal" stroke="#50b850" stroke-width="0.25">H<tspan font-size="4.71" dy="1">2</tspan><tspan dy="-1">O</tspan><tspan font-size="4.71" dy="1">2</tspan></text>
<text x="472.8" y="60.9" fill="#50b850" font-size="7.6" text-anchor="middle" font-weight="normal" textLength="31.2" lengthAdjust="spacingAndGlyphs" stroke="#50b850" stroke-width="0.25">+si-CTRL</text>
<text x="470.6" y="67.7" fill="#c840b8" font-size="7.6" text-anchor="middle" font-weight="normal" stroke="#c840b8" stroke-width="0.25">H<tspan font-size="4.71" dy="1">2</tspan><tspan dy="-1">O</tspan><tspan font-size="4.71" dy="1">2</tspan></text>
<text x="474" y="75.4" fill="#c840b8" font-size="7.6" text-anchor="middle" font-weight="normal" textLength="37.8" lengthAdjust="spacingAndGlyphs" stroke="#c840b8" stroke-width="0.25">+si-TNF-R1</text>
<path d="M33.11 230.43 L33.63 228.87 L34.15 227.32 L34.67 225.76 L34.85 224.4 L35.55 223.11 L35.57 221.33 L35.97 219.77 L35.69 217.44 L36.22 216.43 L36.66 215.26 L37.15 213.42 L37.7 211.55 L37.78 210.21 L38.83 208.48 L39.33 207.1 L40.89 206.32 L42.44 207.1 L44 208.65 L45.55 209.43 L47.11 210.21 L48.66 210.99 L50.22 210.21 L51.77 209.43 L53.33 208.65 L54.88 207.1 L55.44 206.14 L56.44 204.77 L57.47 202.43 L57.99 200.88 L58.67 199.86 L59.21 198.2 L59.55 196.21 L60.48 194.19 L60.24 193.45 L61.1 191.55 L61.79 190.2 L62.17 188.43 L62.13 186.88 L62.66 185.33 L63.15 183.58 L63.5 182.26 L63.66 180.37 L64.32 179.37 L64.21 177.55 L64.5 176.29 L64.51 174.2 L65.02 172.58 L65.14 171.07 L65.77 169.77 L65.81 168.08 L66.8 167.14 L66.74 165.01 L67.33 163.55 L67.44 162.02 L67.94 160.67 L68.57 158.89 L69.66 156.55 L70.44 157.33 L70.49 159.09 L71.21 160.44 L71.38 162.52 L71.59 163.51 L71.9 165.34 L72.17 166.14 L71.64 168.72 L72.53 169.24 L72.3 171.33 L72.85 172.22 L72.61 174.65 L72.62 175.37 L72.66 176.79 L73.3 178.39 L73.29 179.85 L73.33 181.59 L73.14 182.83 L73.27 184.34 L73.61 186.01 L73.55 186.88 L74.05 188.06 L73.68 189.34 L73.67 190.91 L74.59 192.22 L74.08 194.42 L74.66 194.91 L74.29 196.55 L74.76 198.34 L74.91 198.96 L75.1 200.88 L75.19 202.39 L75.36 203.62 L76 205.22 L76.06 207.1 L76.2 208.35 L76.48 209.77 L76.66 211.76 L77.55 213.61 L77.4 215.32 L78.16 216.29 L78.76 217.44 L78.99 219.54 L79.84 221.58 L80.25 222.48 L81.32 224.21 L82.83 225.59 L84.43 226.54 L85.99 227.32 L87.54 228.09 L89.1 228.87 L90.65 229.26 L92.21 229.65 L93.76 230.04 L95.32 230.43" stroke="#e05050" />
<path d="M33.11 230.43 L33.36 228.87 L33.61 227.32 L34.07 225.88 L34.12 224.01 L34.35 222.65 L34.55 220.99 L35.06 219.56 L35.28 217.68 L35.34 216.91 L35.59 215.34 L35.44 213.32 L35.79 211.45 L36.47 209.83 L36.34 208.94 L37 207.1 L37.43 205.06 L38.55 203.99 L40.11 202.43 L41.66 203.21 L43.22 203.99 L44.77 204.77 L46.33 205.54 L47.88 206.32 L49.44 206.32 L51 205.54 L52.55 205.54 L54.11 203.99 L54.98 202.77 L55.66 201.65 L56.48 199.49 L57.22 197.77 L57.32 196.74 L58.51 194.81 L58.77 193.1 L59.39 192.01 L59.52 190.45 L60.33 188.44 L61.02 187.02 L60.75 185.07 L61.79 183.99 L61.88 182.21 L62.55 180.93 L62.33 178.98 L62.98 177.08 L63.39 175.87 L63.44 174.44 L63.51 172.97 L63.91 171 L64.89 169.73 L64.99 168.22 L65.69 166.78 L66.33 164.71 L66.55 163.55 L66.9 162.7 L68.1 161.22 L68.56 159.29 L69.66 158.11 L70.44 158.89 L70.91 160.42 L71.42 161.65 L70.96 163.14 L71.68 165.11 L72.04 166.51 L72.29 167.69 L72.37 169.62 L72.65 171.27 L72.27 172.77 L72.84 173.96 L72.77 175.99 L72.87 177.17 L72.78 178.74 L72.89 180.91 L73.49 182.34 L73.16 184.23 L73.76 185.25 L73.47 186.5 L73.86 188.44 L73.75 190.47 L73.79 192 L74.24 192.59 L74.84 194.13 L74.4 196.01 L74.6 197.51 L75.06 199.35 L75.1 200.88 L74.93 202.61 L76.05 203.99 L76.21 205.7 L76.28 206.56 L76.77 208.64 L76.66 210.21 L77.27 211.61 L77.45 213.14 L78.19 214.93 L78.99 216.43 L80.14 218.3 L80.54 219.27 L81.32 221.09 L82.53 221.84 L83 223.1 L84.43 224.21 L85.71 224.44 L87.16 226.11 L87.93 226.54 L89.1 227.32 L90.65 227.9 L92.21 228.48 L93.76 229.07 L95.32 229.65 L96.87 229.91 L98.43 230.17 L99.98 230.43" stroke="#60c060" />
<path d="M33.89 230.43 L34.11 228.87 L34.33 227.32 L34.88 226.26 L35.1 224.02 L34.97 222.86 L35.33 220.77 L35.44 219.54 L35.23 218.01 L36.03 216.26 L35.95 215.21 L36 213.41 L36.39 211.67 L36.48 210.02 L36.49 208.3 L37 207.1 L36.86 205.65 L37.22 203.48 L37.89 202.17 L37.67 200.34 L38.3 199.59 L38.55 197.77 L38.96 195.98 L38.82 194.18 L39.44 192.84 L39.33 191.55 L39.3 189.96 L40.11 188.44 L41.2 189.21 L42.44 191.55 L43.32 192.55 L44 193.88 L45.55 195.43 L47.11 195.43 L48.66 193.88 L49.53 194.88 L50.22 196.21 L50.84 197.65 L51.77 198.54 L53.33 197.77 L54.88 196.99 L56.01 195.98 L56.44 194.66 L57.45 193.75 L57.99 192.32 L58.52 190.76 L59.55 188.44 L60.09 186.9 L61.01 185.83 L61.1 183.77 L61.38 182.7 L61.88 180.21 L61.66 178.56 L61.96 177.25 L62.66 175.99 L63.19 174.11 L62.93 172.76 L63.33 171.73 L63.87 170.12 L63.6 168.44 L64.21 166.66 L64.37 165.06 L65.01 164.06 L65.16 161.61 L65.86 160.71 L65.77 158.89 L65.97 156.81 L67.01 155 L68.1 153.44 L69.19 155 L70.12 157.33 L70.36 158.36 L70.96 160.46 L70.91 161.86 L71.21 163.55 L71.67 164.96 L71.48 166.96 L71.98 167.85 L71.42 170.32 L71.97 171.41 L72.16 173.38 L72.3 174.44 L72.84 175.48 L72.95 177.27 L72.71 179.65 L73.31 180.85 L72.76 182.53 L73.5 183.96 L73.61 184.87 L73.55 186.88 L73.54 188.92 L73.96 190.13 L74.23 192.09 L74.41 192.97 L74.35 195.08 L74.68 196 L75.1 197.72 L75.1 199.32 L75.37 200.62 L75.19 201.91 L75.96 203.53 L76.44 206.08 L76.61 207.08 L76.66 208.65 L77.17 210.7 L77.94 212.15 L78.63 213.83 L78.99 214.87 L79.92 215.93 L80.84 218.23 L81.32 219.54 L82.45 221.06 L83.25 221.98 L84.43 223.43 L85.73 224.19 L86.35 224.67 L87.96 226.19 L89.1 226.54 L90.65 227.12 L92.21 227.7 L93.76 228.29 L95.32 228.87 L96.87 229.13 L98.43 229.39 L99.98 229.65" stroke="#d050c8" />
<path d="M31.56 197.77 L31.67 195.83 L31.89 194.41 L31.91 193.25 L31.91 191.89 L32.17 190.4 L31.76 189.57 L31.54 188.05 L32.36 186.13 L32.25 185.13 L32.11 183.02 L32.16 182.01 L32.48 180.04 L32.33 179.1 L32.28 177.99 L32.44 175.84 L33.1 174.73 L33.3 173.42 L33.42 171.33 L34.41 170.08 L34.67 168.22 L35.06 170.68 L35.91 172.11 L36.56 174.56 L37 175.99 L37.83 177.48 L38.55 179.1 L39.11 180.35 L39.53 181.82 L39.64 183.77 L40.46 184.84 L40.68 187.15 L40.89 188.44 L41.5 189.47 L41.88 191.82 L42.44 193.1 L42.8 194.91 L44 196.21 L45.19 197.44 L45.55 198.54 L47.11 200.1 L48.66 201.65 L50.22 202.43 L51.77 203.21 L53.33 202.43 L54.88 200.88 L56.05 199.63 L56.44 197.77 L57.21 195.78 L57.99 194.66 L58.84 193.06 L59.24 191.03 L59.55 189.99 L60.37 188.93 L60.5 187.26 L61.1 185.33 L61.93 184.06 L62.31 182.15 L61.93 180.45 L62.66 179.1 L63.21 177.63 L63.53 175.93 L63.49 174.48 L64.15 172.6 L64.21 171.33 L64.5 169.82 L64.69 168.48 L65.1 166.57 L65.77 165.11 L66.6 163.45 L66.84 162.18 L67.33 160.44 L68.08 159.16 L68.88 157.33 L70.12 156.55 L70.9 158.89 L71.47 160.57 L71.49 162.29 L71.16 163.62 L71.4 164.74 L71.99 166.66 L72.53 168.32 L72.1 169.66 L72.49 171.65 L72.2 172.36 L72.54 174.62 L72.99 175.78 L73.16 177.96 L73.23 179.1 L73.21 180.44 L73.64 181.89 L73.87 183.67 L73.95 185.81 L74.22 186.72 L74.23 188.89 L74.61 190.32 L74.32 191.55 L74.19 192.79 L74.8 195.03 L74.98 196.26 L74.84 198.05 L74.76 199.58 L75.32 201.09 L75.41 202.43 L75.18 204.18 L75.66 206.08 L75.82 207.08 L76.35 208.54 L76.66 210.09 L76.66 211.76 L77.49 213.81 L77.77 214.43 L77.95 216.38 L78.58 218.23 L78.99 219.54 L79.73 220.68 L80.53 222.87 L81.32 224.21 L82.14 225.4 L83.44 226.08 L84.43 227.32 L85.99 227.83 L87.54 228.35 L89.1 228.87 L90.65 229.18 L92.21 229.49 L93.76 229.8 L95.32 230.12" stroke="#484848" />
<path d="M30.78 160.44 L30.37 162.27 L31.27 163.13 L30.84 164.61 L31.23 166.07 L31.34 167.64 L31.04 169.24 L31.25 169.95 L30.6 172.06 L30.62 173.66 L31.39 174.36 L31.09 175.99 L31.56 175.99 L32.8 174.44 L32.99 172.76 L33.18 171.25 L33.89 169.77 L34.98 167.44 L35.75 169.25 L35.91 171.33 L36.23 169.7 L37 168.22 L36.95 169.98 L37.41 171.43 L37.78 172.88 L37.81 174.15 L38.6 176.07 L38.29 177.7 L38.55 179.1 L38.74 180.81 L38.67 181.87 L39.31 183.24 L39.33 185.33 L39.69 186.56 L40.13 188.81 L40.3 190.21 L40.11 191.55 L40.3 192.65 L40.42 194.16 L41.21 195.91 L41.2 197.77 L41.54 198.79 L42.44 200.88 L44 202.43 L45.55 203.99 L47.11 205.54 L48.11 206.38 L48.66 207.88 L50.22 209.43 L51.77 210.21 L53.33 210.99 L54.88 210.21 L56.44 209.43 L57.99 207.88 L59.08 206.83 L59.55 205.54 L59.93 203.93 L61.1 202.43 L61.87 200.9 L62.52 199.39 L62.66 197.77 L63.37 196.71 L63.46 195.09 L63.6 193.28 L64.21 191.55 L64.9 190.01 L65.11 188.48 L65.33 187.28 L65.77 185.33 L66.51 183.43 L66.44 182.42 L66.76 180.61 L67.33 179.1 L67.59 177.55 L68.57 175.99 L69.66 174.44 L70.75 176.77 L71.68 179.1 L72.02 180.35 L71.72 182.19 L72.16 183.75 L72.21 185.26 L72.77 186.88 L73 188.65 L73.53 189.83 L73.36 191.05 L73.5 192.83 L73.82 194.32 L73.86 196.21 L74.32 197.54 L73.89 199.42 L74.39 200.91 L74.69 202.85 L75.1 203.66 L75.1 205.54 L75.59 206.72 L75.42 208.48 L76.35 209.68 L76.1 212.03 L76.66 213.32 L76.98 214.46 L77.78 216.18 L78.09 218.07 L78.99 219.54 L79.68 220.94 L80.1 222.92 L81.32 224.21 L82.59 225.5 L83.56 226.57 L84.43 227.32 L85.99 227.83 L87.54 228.35 L89.1 228.87 L90.65 229.18 L92.21 229.49 L93.76 229.8 L95.32 230.12 L96.87 230.22 L98.43 230.32 L99.98 230.43" stroke="#5050c8" />
<path class="ax" d="M30.1 148.9 V230.5 H111.9" />
<path class="tp" d="M30.1 148.9 H86.2" />
<path class="ax" d="M111.9 207.2 V230.5" />
<path class="tk" d="M28.3 156.9 H30.1" />
<text x="26.9" y="158.3" fill="#333" font-size="4" text-anchor="end" font-weight="bold" stroke="#333" stroke-width="0.3">200</text>
<path class="tk" d="M28.3 174.9 H30.1" />
<text x="26.9" y="176.3" fill="#333" font-size="4" text-anchor="end" font-weight="bold" stroke="#333" stroke-width="0.3">150</text>
<path class="tk" d="M28.3 193.5 H30.1" />
<text x="26.9" y="194.9" fill="#333" font-size="4" text-anchor="end" font-weight="bold" stroke="#333" stroke-width="0.3">100</text>
<path class="tk" d="M28.3 211.9 H30.1" />
<text x="26.9" y="213.3" fill="#333" font-size="4" text-anchor="end" font-weight="bold" stroke="#333" stroke-width="0.3">50</text>
<path class="tk" d="M28.3 230.5 H30.1" />
<text x="26.9" y="231.9" fill="#333" font-size="4" text-anchor="end" font-weight="bold" stroke="#333" stroke-width="0.3">0</text>
<text x="0" y="0" font-size="3.8" font-weight="bold" fill="#333" stroke="#333" stroke-width="0.2" text-anchor="middle" transform="translate(13.6 189.7) rotate(-90)"># Cells</text>
<path class="tk" d="M52.7 230.5 V232.3" />
<text x="52.7" y="237.9" fill="#333" font-size="3.8" text-anchor="middle" font-weight="bold" stroke="#333" stroke-width="0.3">0</text>
<path class="tk" d="M75.25 230.5 V232.3" />
<text x="73.25" y="238.7" font-size="3.6" font-weight="bold" fill="#333" stroke="#333" stroke-width="0.2" text-anchor="start">10<tspan font-size="2.6" dy="-1.6">3</tspan></text>
<path class="tk" d="M90.05 230.5 V232.3" />
<text x="88.05" y="238.7" font-size="3.6" font-weight="bold" fill="#333" stroke="#333" stroke-width="0.2" text-anchor="start">10<tspan font-size="2.6" dy="-1.6">4</tspan></text>
<path class="tk" d="M104.95 230.5 V232.3" />
<text x="102.95" y="238.7" font-size="3.6" font-weight="bold" fill="#333" stroke="#333" stroke-width="0.2" text-anchor="start">10<tspan font-size="2.6" dy="-1.6">5</tspan></text>
<path class="mt" d="M45.7 230.5 V231.9" />
<path class="mt" d="M47.2 230.5 V231.9" />
<path class="mt" d="M48.7 230.5 V231.9" />
<path class="mt" d="M50.2 230.5 V231.9" />
<path class="mt" d="M51.7 230.5 V231.9" />
<path class="mt" d="M53.7 230.5 V231.9" />
<path class="mt" d="M55.2 230.5 V231.9" />
<path class="mt" d="M56.7 230.5 V231.9" />
<path class="mt" d="M58.2 230.5 V231.9" />
<path class="mt" d="M59.7 230.5 V231.9" />
<text x="102.6" y="152.3" fill="#000" font-size="7.6" text-anchor="middle" font-weight="normal" stroke="#000" stroke-width="0.25">CTRL</text>
<text x="102.6" y="159.95" fill="#e04848" font-size="7.6" text-anchor="middle" font-weight="normal" stroke="#e04848" stroke-width="0.25">HP</text>
<text x="102.6" y="167.8" fill="#4040c0" font-size="7.6" text-anchor="middle" font-weight="normal" stroke="#4040c0" stroke-width="0.25">HP</text>
<text x="102.6" y="175.95" fill="#1c1c98" font-size="7.6" text-anchor="middle" font-weight="normal" stroke="#1c1c98" stroke-width="0.25">+NAC</text>
<text x="102.6" y="183.8" fill="#50b850" font-size="7.6" text-anchor="middle" font-weight="normal" stroke="#50b850" stroke-width="0.25">HP</text>
<text x="102.6" y="191" fill="#50b850" font-size="7.6" text-anchor="middle" font-weight="normal" textLength="31.2" lengthAdjust="spacingAndGlyphs" stroke="#50b850" stroke-width="0.25">+si-CTRL</text>
<text x="102.6" y="197.7" fill="#c840b8" font-size="7.6" text-anchor="middle" font-weight="normal" stroke="#c840b8" stroke-width="0.25">HP</text>
<text x="104.5" y="204.7" fill="#c840b8" font-size="7.6" text-anchor="middle" font-weight="normal" textLength="37.8" lengthAdjust="spacingAndGlyphs" stroke="#c840b8" stroke-width="0.25">+si-TNF-R1</text>
<path d="M151.78 222.65 L151.94 220.97 L152.61 219.34 L152.51 217.63 L152.56 216.51 L152.78 214.48 L153.33 213.32 L153.63 212.01 L154.09 210.13 L154.24 209.03 L154.89 207.1 L155.75 205.35 L156.44 203.99 L158 202.43 L159.09 203.99 L160.33 206.32 L161.89 207.1 L163.44 208.65 L165 210.21 L166.55 211.76 L168.11 212.54 L169.66 214.1 L171.22 214.87 L172.77 214.87 L174.33 214.1 L175.88 212.54 L176.62 211.77 L177.44 210.21 L178.39 208.65 L178.99 206.32 L179.11 204.66 L179.41 203.17 L180.07 201.99 L180.55 200.88 L180.83 198.95 L181.27 197.56 L181.95 196.24 L182.1 194.66 L182.49 192.7 L182.61 191.93 L183.36 190.12 L183.66 188.44 L184.15 187.08 L184.6 185.12 L184.68 184 L185.21 182.21 L185.34 180.86 L186.13 178.99 L186.04 177.33 L186.77 175.99 L187.32 174.22 L188.04 172.76 L188.33 171.33 L189.1 169.76 L189.32 168.39 L189.88 166.66 L190.23 165.12 L190.97 163.87 L191.12 162 L191.63 160.88 L192.21 158.89 L193.3 158.11 L194.55 159.66 L195.32 161.5 L195.12 162.93 L195.79 165.11 L195.74 166.63 L195.96 167.83 L196.41 169.79 L196.46 171.68 L196.73 173.02 L196.66 174.15 L196.88 175.99 L196.74 177.69 L196.91 179.15 L197.55 180.82 L197.08 182.16 L197.22 184.16 L197.55 185.06 L198.16 186.94 L197.97 188.44 L197.79 189.93 L198.46 191.24 L198.65 193.27 L198.34 195.09 L198.78 195.87 L198.83 197.88 L199.02 199.2 L199.21 200.88 L199.27 202.65 L199.99 204.41 L200.12 205.2 L200.6 207.33 L200.71 208.58 L200.77 210.21 L201.57 211.64 L201.75 213.48 L201.94 214.94 L202.76 216.7 L203.1 217.98 L203.62 219.12 L204.31 220.32 L205.2 221.52 L206.21 222.65 L207.61 223.7 L209.14 225.21 L210.1 226.54 L211.58 227.86 L213.21 228.3 L214.76 229.18 L216.32 229.69 L217.87 230.19 L219.43 230.7 L220.98 231.2" stroke="#60c060" />
<path d="M151.78 196.21 L152.24 194.4 L153.33 193.1 L154.1 192.06 L154.89 190.77 L156.44 189.21 L158 189.99 L158.64 191.97 L159.09 193.1 L159.51 194.76 L159.65 196.05 L160.33 197.77 L161.34 199.73 L161.89 200.88 L162.77 202.15 L163.44 203.99 L164.05 205.02 L165 206.32 L165.57 207.35 L166.55 208.65 L168.11 210.21 L169.66 211.76 L171.22 213.32 L172.77 213.32 L174.33 212.54 L175.88 210.99 L176.31 209.67 L177.44 208.65 L177.85 207.2 L178.32 205.58 L178.99 203.99 L179.07 202.22 L179.76 200.75 L179.81 199.1 L180.55 197.77 L181.19 196.38 L181.37 194.51 L181.82 193.17 L182.1 191.55 L182.58 189.57 L182.94 188.26 L183.01 187.19 L183.66 185.33 L184.36 184.09 L184.62 182.21 L184.68 180.48 L185.21 179.1 L185.41 177.37 L186.22 175.69 L186.77 174.44 L187.69 172.47 L188.33 171.33 L189.26 170.03 L189.88 168.22 L190.82 167 L191.44 165.11 L192.68 163.55 L193.77 164.33 L194.55 165.11 L195.19 166.26 L194.83 168.37 L195.19 169.76 L195.79 171.33 L195.64 172.66 L195.85 174.48 L196.28 175.92 L196.35 177.97 L196.51 179.45 L196.84 180.53 L196.88 182.21 L196.78 184.11 L196.95 185.68 L197.04 186.79 L197.73 188.1 L197.31 190.42 L197.99 191.49 L197.62 192.76 L197.97 194.66 L198.41 196.54 L198.06 197.51 L198.62 199.35 L198.74 200.88 L198.71 202.67 L198.74 203.96 L199.21 205.54 L199.79 207.17 L199.69 209.07 L200.4 210.56 L200.74 211.33 L200.77 213.32 L201.63 214.84 L201.76 216.14 L202.58 218.22 L203.1 219.54 L204.21 220.68 L204.81 221.91 L205.78 222.78 L206.21 224.21 L207.67 225.06 L208.53 226.44 L210.1 227.32 L211.65 228.09 L213.21 228.87 L214.76 229.65 L216.32 230.04 L217.87 230.43 L219.43 230.81 L220.98 231.2" stroke="#e05050" />
<path d="M153.33 231.98 L153.55 230.43 L153.77 228.87 L153.82 227.57 L153.91 226.04 L154.42 224.21 L154.85 222.41 L155.02 221.02 L154.87 219.85 L155.1 218.12 L155.67 216.43 L156.34 214.87 L156.74 213.41 L157.1 212.03 L157.22 210.21 L158.05 209.03 L158.19 207.35 L158.78 205.54 L159.67 203.37 L160.33 201.65 L161.89 200.88 L163.44 202.43 L163.88 203.24 L165 204.77 L165.97 205.83 L166.55 207.1 L168.11 208.65 L169.66 209.43 L171.22 210.21 L172.77 209.43 L174.33 207.88 L175.88 206.32 L176.8 204.59 L177.44 203.21 L178 201.43 L178.99 199.32 L179.19 198.13 L180.34 196.34 L180.55 194.66 L180.76 193.06 L181.28 191.88 L182.01 190.47 L182.1 189.21 L182.76 187.7 L183.07 186.34 L182.91 184.94 L183.66 182.99 L183.81 181.82 L184.71 180.15 L184.81 178.45 L185.21 176.77 L185.67 175.16 L186.27 174.4 L186.19 173.01 L186.77 171.33 L187.07 169.68 L187.68 168.09 L188.33 166.66 L189.2 165.4 L189.52 163.31 L189.88 162 L190.3 159.83 L191.12 158.11 L192.06 157.33 L192.99 158.89 L193.57 160.17 L194.17 162.18 L194.23 163.55 L194.73 165.07 L194.66 166.76 L194.55 168.21 L194.99 169.98 L195.32 171.33 L195.28 172.55 L195.29 174.26 L196.14 175.74 L195.74 177.37 L196.37 179.28 L196.1 180.4 L196.41 182.21 L196.87 184.21 L196.88 185.24 L196.89 186.45 L196.74 188.74 L196.84 190.27 L197.61 191.56 L197.68 192.69 L197.66 194.66 L198.18 196.23 L197.9 198.02 L198.25 199.09 L198.48 201.16 L198.41 202.51 L198.96 204.03 L199.21 205.54 L199.62 207.3 L199.98 208.91 L199.8 210.63 L200.58 211.32 L200.77 213.32 L201.21 215.06 L201.59 216.55 L202.44 217.85 L203.1 219.54 L203.55 220.62 L204.48 221.8 L205.21 223.1 L206.21 224.21 L207.66 225.18 L208.96 225.83 L210.1 227.32 L211.65 228.09 L213.21 228.87 L214.76 229.65 L216.32 230.04 L217.87 230.43 L219.43 230.81 L220.98 231.2" stroke="#d050c8" />
<path d="M152.24 202.43 L152.5 201.24 L152.75 199.14 L152.58 198.14 L152.23 197.04 L152.91 195.22 L153.02 193.94 L152.66 192.66 L153.14 191.2 L152.94 189.05 L153.1 187.65 L152.98 186.74 L153.39 185.29 L152.92 183.88 L153.33 182.21 L153.24 181.06 L153.68 179.2 L154.15 177.97 L154.31 175.88 L153.88 174.21 L154.52 172.84 L154.42 171.33 L154.95 169.84 L155.16 167.4 L155.67 165.88 L156.56 164.56 L156.91 162.77 L157.25 164.68 L158 166.66 L158.4 167.94 L158.25 169.54 L158.8 171.2 L159.09 172.88 L159.11 174.14 L159.91 176.41 L159.62 177.89 L159.86 179.02 L160.33 180.66 L160.8 181.95 L161.07 183.72 L161.3 185.15 L161.58 186.88 L161.83 188.85 L162.35 189.73 L162.92 191.25 L163.13 193.1 L163.54 194.48 L164.18 196.56 L164.69 197.77 L165.82 199.6 L166.24 201.65 L166.69 203.44 L167.8 204.77 L168.62 205.92 L169.35 207.88 L170.91 209.43 L172.46 208.65 L174.02 207.88 L175.57 206.32 L176.42 205.19 L177.13 203.99 L178.13 202.74 L178.68 200.88 L179.65 198.49 L180.24 196.99 L181.24 195.47 L181.79 193.1 L182.67 191.52 L183.35 189.21 L184.14 187.75 L184.9 186.1 L185.36 184.9 L186.46 183.77 L188.01 182.21 L189.57 181.44 L190.66 182.21 L191.75 183.77 L192.41 184.94 L192.34 186.53 L192.99 188.44 L193.63 190.04 L193.96 191.4 L193.92 193.35 L194.23 194.66 L194.71 196.09 L194.66 198.12 L195.18 199.25 L194.98 201.1 L195.82 202.54 L195.79 203.99 L195.9 205.23 L196.57 206.87 L196.63 208.79 L196.89 210.23 L197.31 211.63 L197.66 213.32 L198.34 214.68 L199.11 216.14 L199.1 217.86 L199.99 219.54 L201.01 220.97 L201.41 221.52 L201.96 223.25 L203.1 224.21 L204.26 225.17 L205.69 225.92 L206.99 227.32 L208.54 228.09 L210.1 228.87 L211.65 229.65 L213.21 230.06 L214.76 230.48 L216.32 230.89 L217.87 231.15 L219.43 231.41 L220.98 231.67" stroke="#484848" />
<path d="M151.78 207.1 L152.16 205.4 L151.66 204.1 L151.99 202.54 L151.96 201.68 L152.1 199.58 L152.53 198.37 L151.99 197.14 L152.56 195.87 L152.71 194.09 L152.79 192.36 L152.32 191.32 L152.85 189.72 L152.89 188.51 L152.87 186.88 L152.7 185.03 L153.4 184.2 L153.69 182.18 L153.18 180.51 L153.63 179.01 L153.71 177.94 L154.09 175.55 L154.11 174.44 L154.12 172.52 L154.43 171.51 L155.1 169.54 L155.35 168.22 L156.14 167.1 L156.44 165.11 L157.53 167.44 L157.91 168.75 L157.9 170.44 L158.48 172.07 L158.78 173.66 L159.04 174.93 L159.09 176.58 L159.32 177.99 L160.03 178.87 L160.02 180.66 L160.39 182.2 L160.9 183.71 L160.93 185.37 L161.13 186.62 L161.58 188.44 L161.8 189.76 L162.56 191.35 L162.75 192.87 L163.13 194.66 L163.74 195.87 L164.1 197.98 L164.69 199.32 L165.25 200.96 L166.24 202.43 L167.31 203.44 L167.8 204.77 L169.35 206.32 L170.91 207.1 L172.46 207.1 L174.02 206.32 L175.57 205.54 L176.56 203.65 L177.13 202.43 L178.21 200.94 L178.68 199.32 L179.82 197.37 L180.24 196.21 L181.32 194.23 L181.79 192.32 L182.73 190.38 L183.35 189.21 L184.03 187.59 L184.9 186.1 L186.46 184.08 L188.01 182.99 L189.1 182.21 L190.19 182.99 L191.44 183.77 L192.01 185.56 L192.68 186.88 L193.34 188.24 L193.64 189.85 L193.8 191.53 L193.92 193.1 L193.83 194.59 L194.66 195.99 L194.49 198.16 L195.07 199.26 L195.1 200.56 L195.48 202.43 L195.53 204.39 L195.76 205.66 L196.72 207.48 L196.9 208.39 L197.21 210.19 L197.35 211.76 L198.19 212.74 L198.3 214.8 L199.05 215.96 L199.37 217.5 L199.99 218.76 L201.09 219.65 L201.53 220.68 L202.64 221.86 L203.1 223.43 L204.64 224.17 L205.7 225.37 L206.99 226.54 L208.3 227.69 L210.1 228.3 L211.65 229.18 L213.21 229.7 L214.76 230.22 L216.32 230.74 L217.87 231.05 L219.43 231.36 L220.98 231.67" stroke="#5050c8" />
<path class="ax" d="M151.5 150.2 V232 H232.7" />
<path class="tp" d="M151.5 150.2 H208" />
<path class="ax" d="M232.7 209.8 V232" />
<path class="tk" d="M149.7 156.9 H151.5" />
<text x="148.3" y="158.3" fill="#333" font-size="4" text-anchor="end" font-weight="bold" stroke="#333" stroke-width="0.3">250</text>
<path class="tk" d="M149.7 171.7 H151.5" />
<text x="148.3" y="173.1" fill="#333" font-size="4" text-anchor="end" font-weight="bold" stroke="#333" stroke-width="0.3">200</text>
<path class="tk" d="M149.7 186.5 H151.5" />
<text x="148.3" y="187.9" fill="#333" font-size="4" text-anchor="end" font-weight="bold" stroke="#333" stroke-width="0.3">150</text>
<path class="tk" d="M149.7 201.8 H151.5" />
<text x="148.3" y="203.2" fill="#333" font-size="4" text-anchor="end" font-weight="bold" stroke="#333" stroke-width="0.3">100</text>
<path class="tk" d="M149.7 216.6 H151.5" />
<text x="148.3" y="218" fill="#333" font-size="4" text-anchor="end" font-weight="bold" stroke="#333" stroke-width="0.3">50</text>
<path class="tk" d="M149.7 232 H151.5" />
<text x="148.3" y="233.4" fill="#333" font-size="4" text-anchor="end" font-weight="bold" stroke="#333" stroke-width="0.3">0</text>
<text x="0" y="0" font-size="3.8" font-weight="bold" fill="#333" stroke="#333" stroke-width="0.2" text-anchor="middle" transform="translate(135 191.1) rotate(-90)"># Cells</text>
<path class="tk" d="M173.3 232 V233.8" />
<text x="173.3" y="239.4" fill="#333" font-size="3.8" text-anchor="middle" font-weight="bold" stroke="#333" stroke-width="0.3">0</text>
<path class="tk" d="M196.05 232 V233.8" />
<text x="194.05" y="240.2" font-size="3.6" font-weight="bold" fill="#333" stroke="#333" stroke-width="0.2" text-anchor="start">10<tspan font-size="2.6" dy="-1.6">3</tspan></text>
<path class="tk" d="M211.15 232 V233.8" />
<text x="209.15" y="240.2" font-size="3.6" font-weight="bold" fill="#333" stroke="#333" stroke-width="0.2" text-anchor="start">10<tspan font-size="2.6" dy="-1.6">4</tspan></text>
<path class="tk" d="M226.35 232 V233.8" />
<text x="224.35" y="240.2" font-size="3.6" font-weight="bold" fill="#333" stroke="#333" stroke-width="0.2" text-anchor="start">10<tspan font-size="2.6" dy="-1.6">5</tspan></text>
<path class="mt" d="M166.3 232 V233.4" />
<path class="mt" d="M167.8 232 V233.4" />
<path class="mt" d="M169.3 232 V233.4" />
<path class="mt" d="M170.8 232 V233.4" />
<path class="mt" d="M172.3 232 V233.4" />
<path class="mt" d="M174.3 232 V233.4" />
<path class="mt" d="M175.8 232 V233.4" />
<path class="mt" d="M177.3 232 V233.4" />
<path class="mt" d="M178.8 232 V233.4" />
<path class="mt" d="M180.3 232 V233.4" />
<text x="224.85" y="151.6" fill="#000" font-size="7.6" text-anchor="middle" font-weight="normal" stroke="#000" stroke-width="0.25">CTRL</text>
<text x="225.35" y="159.6" fill="#e04848" font-size="7.6" text-anchor="middle" font-weight="normal" stroke="#e04848" stroke-width="0.25">H<tspan font-size="4.71" dy="1">2</tspan><tspan dy="-1">O</tspan><tspan font-size="4.71" dy="1">2</tspan></text>
<text x="225.35" y="167.3" fill="#4040c0" font-size="7.6" text-anchor="middle" font-weight="normal" stroke="#4040c0" stroke-width="0.25">H<tspan font-size="4.71" dy="1">2</tspan><tspan dy="-1">O</tspan><tspan font-size="4.71" dy="1">2</tspan></text>
<text x="224.85" y="174.3" fill="#1c1c98" font-size="7.6" text-anchor="middle" font-weight="normal" stroke="#1c1c98" stroke-width="0.25">+NAC</text>
<text x="225.35" y="181.6" fill="#50b850" font-size="7.6" text-anchor="middle" font-weight="normal" stroke="#50b850" stroke-width="0.25">H<tspan font-size="4.71" dy="1">2</tspan><tspan dy="-1">O</tspan><tspan font-size="4.71" dy="1">2</tspan></text>
<text x="227.55" y="189" fill="#50b850" font-size="7.6" text-anchor="middle" font-weight="normal" textLength="31.2" lengthAdjust="spacingAndGlyphs" stroke="#50b850" stroke-width="0.25">+si-CTRL</text>
<text x="225.35" y="195.8" fill="#c840b8" font-size="7.6" text-anchor="middle" font-weight="normal" stroke="#c840b8" stroke-width="0.25">H<tspan font-size="4.71" dy="1">2</tspan><tspan dy="-1">O</tspan><tspan font-size="4.71" dy="1">2</tspan></text>
<text x="228.75" y="203.5" fill="#c840b8" font-size="7.6" text-anchor="middle" font-weight="normal" textLength="37.8" lengthAdjust="spacingAndGlyphs" stroke="#c840b8" stroke-width="0.25">+si-TNF-R1</text>
<path d="M294 231.98 L294.31 230.43 L294.62 228.87 L294.74 227.57 L295.23 225.78 L295.55 224.21 L295.94 222.47 L296.31 221.36 L296.95 219.59 L297.11 217.98 L297.84 216.22 L298.66 214.87 L299.37 213.59 L300.22 211.76 L300.87 210.33 L301.77 208.65 L302.78 207.39 L303.33 205.54 L303.8 204.06 L304.23 202.15 L304.88 200.88 L305.48 199.53 L305.72 197.51 L306 196.31 L306.44 194.66 L306.42 193.21 L306.79 191.25 L306.97 189.91 L307.36 188.67 L307.55 186.95 L307.68 185.33 L308.04 183.63 L308.1 182.28 L308.14 180.75 L308.4 178.99 L308.54 177.76 L308.66 176.06 L308.77 174.44 L308.87 172.71 L309.35 171.44 L309.22 169.61 L309.39 168.49 L309.52 166.5 L309.86 165.11 L310.05 163.47 L310.86 161.88 L311.1 160.44 L312.35 159.2 L313.44 160.44 L313.76 162.27 L313.63 163.33 L314.18 165.29 L314.21 166.66 L314.5 168.14 L314.62 169.86 L314.59 171.44 L314.66 173.13 L314.99 174.6 L315.12 175.84 L315.15 177.55 L315.06 179.36 L315.47 180.91 L315.71 182.3 L315.64 183.71 L315.58 185.17 L316.05 187.04 L316.11 188.29 L316.08 189.99 L316.05 191.25 L316.21 192.87 L316.32 194.55 L316.89 196.51 L316.74 198.01 L317.05 199.05 L317.08 201.16 L317.33 202.43 L317.41 204.25 L317.68 205.39 L317.69 207.17 L318.11 208.9 L318.31 210.1 L318.62 212.02 L318.57 213.32 L318.84 214.75 L319.12 216.33 L319.39 217.85 L319.76 219.23 L319.92 220.64 L320.12 221.87 L320.67 223.46 L320.97 224.8 L321.64 225.66 L321.99 227.32 L323.03 228.35 L324.06 229.39 L325.1 230.43 L326.66 230.94 L328.21 231.46 L329.77 231.98" stroke="#60c060" />
<path d="M292.44 231.98 L292.75 230.43 L293.06 228.87 L293.35 227.6 L293.49 225.48 L294 224.21 L294.18 222.35 L294.88 221.13 L295.06 219.38 L295.55 217.98 L296.38 216.55 L297.11 214.87 L298.09 213.36 L298.66 211.76 L299.38 209.97 L299.87 208.49 L300.22 207.1 L300.67 205.64 L301.15 203.76 L301.35 202.71 L301.77 200.88 L302.01 199.11 L302.48 197.7 L303.06 195.96 L303.33 194.66 L303.81 192.93 L303.93 191.47 L304.66 189.92 L304.88 188.44 L305.46 186.85 L305.47 185.39 L306.16 183.94 L306.44 182.21 L306.69 180.61 L307.11 178.96 L307.16 177.48 L307.68 175.99 L308.01 174.73 L308.05 172.63 L308.56 171.41 L308.5 169.96 L308.77 168.22 L309.09 166.91 L309.58 165.41 L309.86 163.55 L310.65 161.76 L311.1 160.44 L312.35 158.89 L313.44 159.66 L313.55 161.7 L313.84 163.11 L314.21 165.11 L314.53 166.88 L314.61 168.24 L314.79 170 L314.63 171.25 L314.8 172.75 L314.86 174.5 L315.15 175.99 L315.06 177.48 L315.22 179.33 L315.57 180.9 L315.64 182.33 L315.73 183.67 L315.92 185.07 L316.19 186.95 L316.08 188.44 L316.32 190.02 L316.45 191.45 L316.56 192.95 L316.92 194.47 L316.91 196.37 L316.84 197.58 L317.13 199.2 L317.33 200.88 L317.52 202.7 L317.9 204.24 L317.86 205.28 L318.2 206.99 L318.06 208.53 L318.56 210.28 L318.57 211.76 L319.04 213.31 L319.03 214.88 L319.34 216.6 L319.52 218.22 L319.69 219.68 L320.12 221.09 L320.71 222.82 L321.2 224.42 L321.54 226.03 L321.99 227.32 L323.03 228.35 L324.06 229.39 L325.1 230.43 L326.66 230.94 L328.21 231.46 L329.77 231.98" stroke="#e05050" />
<path d="M289.33 231.98 L289.72 230.43 L290.11 228.87 L290.35 227.02 L290.89 225.76 L291.25 224.38 L291.62 222.51 L292.01 220.81 L292.44 219.54 L292.85 217.93 L293.33 216.7 L293.51 215.02 L294 213.32 L294.77 212.05 L295.55 210.21 L297.11 208.65 L298.66 207.1 L300.22 205.54 L300.94 203.9 L301.77 202.43 L302.09 200.72 L302.98 199.61 L303.33 197.77 L303.99 196.03 L304.23 194.77 L304.88 193.1 L305.44 191.27 L305.9 190 L305.87 188.22 L306.44 186.88 L306.73 185.57 L306.84 183.66 L307.33 182.23 L307.68 180.66 L307.88 178.83 L308.24 177.69 L308.49 176.14 L308.51 174.53 L308.77 172.88 L308.93 171.16 L309.42 169.76 L309.73 168.37 L309.86 166.66 L310.44 164.73 L310.79 162.77 L311.88 161.22 L312.97 162 L313.54 163.77 L313.9 165.88 L313.99 167.24 L314.17 168.6 L314.59 169.89 L314.35 171.75 L314.87 173.18 L314.84 174.44 L315.09 175.74 L314.88 177.85 L315.2 179.16 L315.52 180.86 L315.34 182.32 L315.66 183.8 L315.71 185.57 L315.77 186.88 L316.11 188.58 L315.99 189.98 L316.11 191.46 L316.33 193.2 L316.4 194.94 L316.64 196.46 L317.05 197.71 L317.01 199.32 L317.17 200.89 L317.2 202.54 L317.45 203.86 L317.96 205.38 L317.91 207.24 L318.29 208.71 L318.26 210.21 L318.56 211.57 L318.85 213.14 L318.94 214.81 L319.24 216.66 L319.35 218.19 L319.81 219.54 L320.33 220.85 L320.63 222.64 L321.05 224.18 L321.68 225.76 L322.67 227.29 L323.44 228.35 L324.32 229.65 L325.62 230.43 L326.92 231.2 L328.21 231.98" stroke="#d050c8" />
<path d="M291.66 231.98 L292.05 230.43 L292.44 228.87 L292.81 227.42 L293.22 225.76 L293.37 224.42 L294.02 222.62 L294.15 221.16 L294.23 219.49 L294.77 217.98 L295.11 216.53 L295.02 214.82 L295.38 213.05 L295.66 212.04 L296.08 209.93 L296.01 208.63 L296.33 207.1 L296.74 205.42 L296.95 203.81 L296.77 202.37 L297.3 200.82 L297.26 199.58 L297.51 197.72 L297.79 196.02 L297.88 194.66 L298.13 193.11 L298.06 191.56 L298.38 190.37 L298.42 189.09 L298.55 187.84 L298.7 185.9 L299.01 184.85 L299.2 183.61 L299.16 181.77 L299.21 180.81 L299.44 179.1 L299.55 177.6 L299.6 176.01 L300 174.54 L300.23 172.76 L300.35 171.53 L300.66 169.57 L300.71 168.32 L301 166.66 L301.25 165.4 L301.51 163.46 L301.98 162.28 L302.04 160.2 L302.55 158.89 L303.64 156.55 L304.57 157.33 L305.13 159.05 L305.66 161.22 L306.11 162.75 L306.11 163.82 L306.15 165.44 L306.62 166.97 L306.75 168.22 L307.11 169.53 L307.32 171.4 L307.3 172.81 L307.33 174.55 L307.69 175.99 L307.62 177.36 L307.99 179.1 L308.14 180.57 L308.07 182.04 L308.66 184.02 L308.62 185.1 L308.93 186.75 L308.8 188.42 L308.98 189.87 L309.24 191.55 L309.33 193.38 L309.31 194.62 L309.9 196.44 L309.91 197.74 L310.08 199.1 L309.98 200.7 L310.09 202.5 L310.48 203.99 L310.64 205.84 L311.06 207.24 L310.86 208.55 L311.3 210.29 L311.48 211.59 L311.55 213.14 L311.88 214.87 L312.29 216.56 L312.37 218.27 L312.81 219.29 L313.29 221.21 L313.44 222.65 L313.88 223.86 L314.23 225.47 L314.99 226.97 L315.46 228.09 L316.78 229.42 L318.1 230.74 L319.66 231.36 L321.21 231.98" stroke="#484848" />
<path d="M292.13 231.98 L292.52 230.43 L292.91 228.87 L293.25 227.55 L293.69 225.76 L294.06 224.13 L294.41 222.79 L294.29 220.83 L294.85 219.69 L294.84 218.11 L295.24 216.43 L295.65 214.9 L295.46 213.14 L295.77 211.9 L296.18 210.33 L296.15 208.55 L296.55 207.05 L296.8 205.54 L296.73 204.01 L297.18 202.72 L297.04 201.45 L297.32 199.93 L297.68 198.44 L297.88 197.34 L297.83 195.89 L297.84 194.43 L298.06 192.86 L298.35 191.55 L298.44 190.31 L298.64 188.85 L298.78 187.49 L298.78 185.94 L298.86 184.55 L299.2 183.16 L299.43 181.39 L299.4 179.99 L299.4 179.09 L299.78 177.39 L299.91 175.99 L300.11 174.24 L300.24 172.91 L300.41 171.53 L300.65 169.96 L300.84 168.17 L301.18 166.89 L301.08 165.17 L301.46 163.55 L302.03 161.87 L302.01 160.19 L302.39 158.8 L303.02 157.33 L304.11 156.55 L305.19 158.11 L305.49 159.99 L305.92 161.52 L306.44 163.55 L306.43 165.35 L306.63 166.43 L307.27 168.24 L307.48 169.62 L307.55 171.16 L307.68 172.88 L308.02 174.21 L307.85 176.22 L308.38 177.52 L308.18 179.28 L308.52 180.75 L308.49 182.33 L308.71 183.76 L308.93 185.33 L309.06 186.97 L309.44 188.11 L309.5 189.55 L309.68 191.04 L309.45 192.62 L309.85 193.52 L309.97 195.4 L309.9 196.76 L310.27 198.12 L310.33 199.32 L310.4 200.98 L310.47 202.07 L310.7 203.38 L311.03 205.17 L311.31 206.55 L311.34 207.8 L311.53 209.19 L311.47 210.42 L311.73 212.19 L311.88 213.32 L312.03 214.45 L312.19 216.42 L312.72 217.53 L312.9 219.26 L312.99 220.26 L313.44 221.87 L313.98 223.21 L314.37 224.85 L315.05 226.01 L315.46 227.63 L316.78 229.18 L318.1 230.74 L319.66 231.36 L321.21 231.98" stroke="#5050c8" />
<path class="ax" d="M279.5 150.2 V232 H360.6" />
<path class="tp" d="M279.5 150.2 H329.8" />
<path class="ax" d="M360.6 207 V232" />
<path class="tk" d="M277.7 168.6 H279.5" />
<text x="276.3" y="170" fill="#333" font-size="4" text-anchor="end" font-weight="bold" stroke="#333" stroke-width="0.3">300</text>
<path class="tk" d="M277.7 189.7 H279.5" />
<text x="276.3" y="191.1" fill="#333" font-size="4" text-anchor="end" font-weight="bold" stroke="#333" stroke-width="0.3">200</text>
<path class="tk" d="M277.7 210.4 H279.5" />
<text x="276.3" y="211.8" fill="#333" font-size="4" text-anchor="end" font-weight="bold" stroke="#333" stroke-width="0.3">100</text>
<path class="tk" d="M277.7 232 H279.5" />
<text x="276.3" y="233.4" fill="#333" font-size="4" text-anchor="end" font-weight="bold" stroke="#333" stroke-width="0.3">0</text>
<text x="0" y="0" font-size="3.8" font-weight="bold" fill="#333" stroke="#333" stroke-width="0.2" text-anchor="middle" transform="translate(263 191.1) rotate(-90)"># Cells</text>
<path class="tk" d="M301.5 232 V233.8" />
<text x="301.5" y="239.4" fill="#333" font-size="3.8" text-anchor="middle" font-weight="bold" stroke="#333" stroke-width="0.3">0</text>
<path class="tk" d="M323.45 232 V233.8" />
<text x="321.45" y="240.2" font-size="3.6" font-weight="bold" fill="#333" stroke="#333" stroke-width="0.2" text-anchor="start">10<tspan font-size="2.6" dy="-1.6">3</tspan></text>
<path class="tk" d="M339.25 232 V233.8" />
<text x="337.25" y="240.2" font-size="3.6" font-weight="bold" fill="#333" stroke="#333" stroke-width="0.2" text-anchor="start">10<tspan font-size="2.6" dy="-1.6">4</tspan></text>
<path class="tk" d="M354.15 232 V233.8" />
<text x="352.15" y="240.2" font-size="3.6" font-weight="bold" fill="#333" stroke="#333" stroke-width="0.2" text-anchor="start">10<tspan font-size="2.6" dy="-1.6">5</tspan></text>
<path class="mt" d="M294.5 232 V233.4" />
<path class="mt" d="M296 232 V233.4" />
<path class="mt" d="M297.5 232 V233.4" />
<path class="mt" d="M299 232 V233.4" />
<path class="mt" d="M300.5 232 V233.4" />
<path class="mt" d="M302.5 232 V233.4" />
<path class="mt" d="M304 232 V233.4" />
<path class="mt" d="M305.5 232 V233.4" />
<path class="mt" d="M307 232 V233.4" />
<path class="mt" d="M308.5 232 V233.4" />
<text x="343" y="152.6" fill="#000" font-size="7.6" text-anchor="middle" font-weight="normal" stroke="#000" stroke-width="0.25">CTRL</text>
<text x="343" y="160.25" fill="#e04848" font-size="7.6" text-anchor="middle" font-weight="normal" stroke="#e04848" stroke-width="0.25">HP</text>
<text x="343" y="168.1" fill="#4040c0" font-size="7.6" text-anchor="middle" font-weight="normal" stroke="#4040c0" stroke-width="0.25">HP</text>
<text x="343" y="176.25" fill="#1c1c98" font-size="7.6" text-anchor="middle" font-weight="normal" stroke="#1c1c98" stroke-width="0.25">+NAC</text>
<text x="343" y="184.1" fill="#50b850" font-size="7.6" text-anchor="middle" font-weight="normal" stroke="#50b850" stroke-width="0.25">HP</text>
<text x="343" y="191.3" fill="#50b850" font-size="7.6" text-anchor="middle" font-weight="normal" textLength="31.2" lengthAdjust="spacingAndGlyphs" stroke="#50b850" stroke-width="0.25">+si-CTRL</text>
<text x="343" y="198" fill="#c840b8" font-size="7.6" text-anchor="middle" font-weight="normal" stroke="#c840b8" stroke-width="0.25">HP</text>
<text x="344.9" y="205" fill="#c840b8" font-size="7.6" text-anchor="middle" font-weight="normal" textLength="37.8" lengthAdjust="spacingAndGlyphs" stroke="#c840b8" stroke-width="0.25">+si-TNF-R1</text>
<path d="M406.33 232.76 L407.11 231.46 L407.89 230.17 L408.66 228.87 L409.22 227.03 L410.17 226 L411 224.21 L412.05 222.64 L413.33 221.09 L414.32 219.64 L415.66 217.98 L417.04 217.14 L418 216.43 L418.93 215.09 L420.33 213.32 L421.31 211.74 L422.66 210.21 L423.28 208.67 L424.38 207.38 L424.99 205.54 L425.27 203.86 L425.97 202.36 L426.23 201.1 L426.55 199.32 L426.75 198.02 L427.18 196.35 L427.52 194.41 L428.1 193.1 L428.41 191.73 L428.7 190.1 L428.89 188.63 L428.92 187.04 L429.64 185.12 L429.66 183.77 L430.01 182.34 L429.95 180.79 L430.55 178.84 L430.47 177.28 L431.13 175.79 L431.21 174.44 L431.41 173.15 L431.75 171.04 L431.93 169.54 L432.03 168.07 L432.7 166.45 L432.77 165.11 L433.14 163.66 L433.66 161.81 L434.33 160.44 L434.89 159.33 L435.88 158.11 L437.12 157.64 L438.06 158.89 L438.28 160.69 L438.45 162.17 L438.99 163.55 L439.43 165.01 L439.17 166.37 L439.68 168.4 L439.68 170.06 L439.84 171.28 L440.23 172.88 L440.4 174.74 L440.81 175.96 L440.7 177.6 L440.75 178.91 L440.94 180.88 L441.13 182.15 L441.48 183.77 L441.58 185.48 L441.74 187.06 L442.14 188.43 L442.41 190.27 L442.49 191.55 L442.41 192.86 L442.72 194.66 L443.11 196 L443.24 197.88 L443.26 199.61 L443.74 200.67 L443.83 202.21 L444.06 204.14 L444.28 205.54 L444.68 207.34 L444.73 208.72 L445.4 210 L445.56 211.71 L445.99 213.32 L446.47 214.62 L446.74 216.7 L447.34 218.15 L448.01 219.8 L448.32 221.09 L449.3 222.31 L450.1 223.78 L450.87 225.03 L451.43 226.54 L452.47 227.7 L453.77 228.48 L454.93 229.45 L456.1 230.43 L457.65 231.01 L459.21 231.59 L460.76 232.18 L462.32 232.76" stroke="#e05050" />
<path d="M408.66 232.76 L409.25 231.4 L409.83 230.04 L410.41 228.68 L411 227.32 L411.74 225.97 L412.73 224.38 L413.33 222.65 L414.4 220.83 L415.66 219.54 L416.85 218 L418 216.43 L419.04 214.77 L420.33 213.32 L421.31 212.05 L421.9 210.12 L422.66 208.65 L423.02 207.26 L423.42 205.53 L423.59 204.27 L424.22 202.43 L424.69 200.62 L424.65 199.1 L424.94 197.94 L425.65 196.18 L425.77 194.66 L426.17 192.83 L426.33 191.41 L426.51 190.24 L427.01 188.73 L427.16 186.91 L427.33 185.33 L427.73 183.71 L427.82 182.39 L428.13 180.86 L428.42 179.07 L428.84 177.42 L428.88 175.99 L429.06 174.62 L429.3 173.18 L430.01 171.57 L430.01 170.04 L430.44 168.22 L431.12 166.62 L431.62 165.28 L431.99 163.55 L433.55 162 L434.64 162 L435.88 163.55 L436.32 165.26 L436.9 166.53 L437.12 168.22 L437.45 169.82 L437.36 171.35 L437.96 172.7 L438.02 174.49 L438.21 175.99 L438.4 177.55 L438.54 178.84 L438.91 180.44 L438.98 181.97 L439.11 183.56 L439.3 185.33 L439.35 186.99 L439.44 188.47 L439.86 190.02 L440.18 191.76 L440.2 193.1 L440.6 194.51 L440.55 196.21 L440.87 197.62 L440.84 199.36 L441.33 200.76 L441.66 202.69 L441.49 204.2 L441.85 205.45 L442.1 207.1 L442.49 208.68 L442.67 209.93 L443.05 212.06 L443.36 213.32 L443.89 214.74 L443.97 216.43 L444.67 218.22 L444.73 219.68 L445.33 221.15 L445.97 222.51 L446.46 224.21 L447.28 225.47 L447.93 227.09 L449.14 228.16 L449.88 229.65 L451.17 230.69 L452.47 231.72 L453.77 232.76" stroke="#60c060" />
<path d="M407.89 232.76 L408.47 231.4 L409.05 230.04 L409.64 228.68 L410.22 227.32 L411.03 225.86 L411.69 224.1 L412.55 222.65 L413.87 221.35 L414.88 219.54 L415.94 217.77 L417.22 216.43 L417.87 215.14 L418.76 213.32 L419.55 211.76 L420 210.22 L420.44 208.85 L420.72 206.81 L421.11 205.54 L421.46 204.09 L421.94 202.29 L422.27 201.14 L422.44 199.21 L422.66 197.77 L422.98 196.38 L423.21 194.37 L423.43 192.98 L423.75 191.65 L424.22 189.99 L424.62 188.37 L424.75 187.13 L425.48 185.55 L425.77 183.77 L426.2 182.29 L426.83 180.76 L427.33 179.1 L428.04 177.67 L428.53 176.22 L428.88 174.44 L429.55 172.7 L430.44 171.33 L431.06 169.15 L431.99 167.44 L432.61 165.48 L433.55 163.55 L434.64 162 L435.88 162.77 L436.13 164.21 L436.7 165.71 L437.12 167.44 L437.15 169 L437.39 170.56 L437.91 171.61 L437.99 173.21 L437.89 174.38 L438.21 175.99 L438.43 177.73 L438.79 179.08 L438.85 180.62 L438.79 182.34 L438.89 183.64 L439.3 185.33 L439.43 186.87 L439.67 188.28 L439.74 189.75 L439.81 191.75 L440.25 193.07 L440.15 194.85 L440.55 196.21 L440.67 198.01 L441.13 199.25 L440.98 200.98 L441.43 202.33 L441.54 203.98 L441.64 205.29 L442.1 207.1 L442.45 208.64 L442.5 210.16 L443.13 211.74 L443.49 213.5 L443.74 214.99 L443.97 216.43 L444.38 217.83 L444.78 219.43 L445.53 220.8 L445.92 222.36 L446.46 224.21 L447.14 225.84 L447.95 226.68 L449.24 228.58 L449.88 229.65 L451.17 230.69 L452.47 231.72 L453.77 232.76" stroke="#d050c8" />
<path d="M408.66 232.76 L409.25 231.4 L409.83 230.04 L410.41 228.68 L411 227.32 L411.5 225.99 L411.74 224.05 L412.25 222.76 L412.7 220.94 L413.33 219.54 L413.62 218.16 L414.02 216.67 L413.94 214.8 L414.6 213.21 L414.5 211.73 L414.88 210.21 L414.94 208.43 L415.1 207.03 L415.35 205.81 L415.86 204 L415.86 202.26 L416.21 200.6 L416.24 199.39 L416.44 197.77 L416.82 196.41 L416.73 194.87 L417.07 193.65 L417.23 192.24 L417.37 190.89 L417.3 189.26 L417.75 187.89 L417.49 186.53 L417.69 185.23 L418 183.77 L418.32 182.34 L418.37 180.69 L418.65 178.86 L418.74 177.41 L419.16 176.01 L419.3 174.57 L419.2 172.86 L419.55 171.33 L419.58 169.94 L420.18 168.42 L420.32 166.5 L420.66 165.12 L420.75 163.31 L421.11 162 L421.65 160.72 L422.16 158.89 L422.66 157.33 L423.75 156.55 L424.99 157.33 L425.58 158.77 L425.93 160.61 L426.24 162 L426.66 163.69 L426.49 165.07 L427.01 166.37 L427.12 168.01 L427.33 169.77 L427.36 171.49 L427.64 172.7 L427.83 174.33 L428.25 175.74 L428.39 177.48 L428.42 179.1 L428.43 180.39 L428.68 182.42 L429.16 183.67 L429.26 185.54 L429.27 186.9 L429.64 188.23 L429.66 189.99 L429.82 191.57 L430.23 193.33 L430.4 194.4 L430.56 196 L430.59 197.87 L430.89 199.21 L430.9 200.88 L430.95 202.73 L431.13 203.94 L431.72 205.63 L431.79 206.85 L432.14 208.39 L432.15 210.21 L432.4 211.99 L432.64 213.55 L432.96 214.79 L433.28 216.31 L433.49 217.92 L433.7 219.54 L434.2 221.06 L434.3 222.3 L434.93 223.91 L435.32 225.44 L435.57 226.54 L436.28 227.97 L437.02 229.13 L437.75 230.43 L439.15 231.59 L440.55 232.76" stroke="#484848" />
<path d="M409.44 232.76 L410.02 231.4 L410.61 230.04 L411.19 228.68 L411.77 227.32 L412.47 226.03 L412.72 224.4 L413.38 222.79 L413.81 221.13 L414.11 219.54 L414.31 218.26 L414.68 216.42 L414.73 215.16 L415.28 213.32 L415.36 211.76 L415.66 210.21 L415.75 208.95 L416.26 207.01 L416.27 205.26 L416.4 203.78 L416.68 202.61 L417.06 200.68 L417.21 199.56 L417.22 197.77 L417.47 196.65 L417.37 194.97 L417.74 193.41 L417.92 192.23 L418.17 190.88 L417.91 189.63 L418.46 188.04 L418.58 186.77 L418.41 185.04 L418.77 183.77 L418.76 182.41 L419.14 180.66 L419.38 178.99 L419.33 177.36 L419.86 175.97 L419.88 174.45 L419.92 173.09 L420.33 171.33 L420.74 169.63 L420.64 168.48 L421.01 166.7 L421.55 165.26 L421.75 163.47 L421.88 162 L422.58 160.55 L422.7 159.13 L423.44 157.64 L424.99 156.55 L426.24 158.89 L426.44 160.45 L426.81 162.16 L427.18 163.76 L427.48 165.11 L427.49 166.49 L427.96 168.37 L427.92 169.61 L428 171.17 L428.59 172.84 L428.57 174.44 L428.66 176.04 L428.73 177.61 L429.24 179 L428.99 180.65 L429.55 182.35 L429.27 183.65 L429.66 185.33 L429.88 187.09 L430.2 188.43 L430.11 190.19 L430.23 191.73 L430.53 193.26 L430.51 194.48 L430.7 196.35 L430.9 197.77 L431.05 199.38 L431.34 200.99 L431.45 202.18 L431.58 203.75 L431.96 205.7 L431.97 207.36 L432.15 208.65 L432.36 210.49 L432.44 211.48 L432.97 213.11 L433.08 214.9 L433.15 216.53 L433.55 217.98 L433.8 219.38 L434.24 221.36 L434.47 222.91 L434.98 224.41 L435.26 225.76 L436.12 227.29 L436.71 228.87 L437.44 230.43 L438.99 231.59 L440.55 232.76" stroke="#5050c8" />
<path class="ax" d="M396.6 150.2 V232.4 H478.1" />
<path class="tp" d="M396.6 150.2 H449.5" />
<path class="ax" d="M478.1 207.7 V232.4" />
<path class="tk" d="M394.8 169.2 H396.6" />
<text x="393.4" y="170.6" fill="#333" font-size="4" text-anchor="end" font-weight="bold" stroke="#333" stroke-width="0.3">300</text>
<path class="tk" d="M394.8 190.3 H396.6" />
<text x="393.4" y="191.7" fill="#333" font-size="4" text-anchor="end" font-weight="bold" stroke="#333" stroke-width="0.3">200</text>
<path class="tk" d="M394.8 211.5 H396.6" />
<text x="393.4" y="212.9" fill="#333" font-size="4" text-anchor="end" font-weight="bold" stroke="#333" stroke-width="0.3">100</text>
<path class="tk" d="M394.8 232.4 H396.6" />
<text x="393.4" y="233.8" fill="#333" font-size="4" text-anchor="end" font-weight="bold" stroke="#333" stroke-width="0.3">0</text>
<text x="0" y="0" font-size="3.8" font-weight="bold" fill="#333" stroke="#333" stroke-width="0.2" text-anchor="middle" transform="translate(380.1 191.3) rotate(-90)"># Cells</text>
<path class="tk" d="M418.7 232.4 V234.2" />
<text x="418.7" y="239.8" fill="#333" font-size="3.8" text-anchor="middle" font-weight="bold" stroke="#333" stroke-width="0.3">0</text>
<path class="tk" d="M441.75 232.4 V234.2" />
<text x="439.75" y="240.6" font-size="3.6" font-weight="bold" fill="#333" stroke="#333" stroke-width="0.2" text-anchor="start">10<tspan font-size="2.6" dy="-1.6">3</tspan></text>
<path class="tk" d="M456.65 232.4 V234.2" />
<text x="454.65" y="240.6" font-size="3.6" font-weight="bold" fill="#333" stroke="#333" stroke-width="0.2" text-anchor="start">10<tspan font-size="2.6" dy="-1.6">4</tspan></text>
<path class="tk" d="M471.15 232.4 V234.2" />
<text x="469.15" y="240.6" font-size="3.6" font-weight="bold" fill="#333" stroke="#333" stroke-width="0.2" text-anchor="start">10<tspan font-size="2.6" dy="-1.6">5</tspan></text>
<path class="mt" d="M411.7 232.4 V233.8" />
<path class="mt" d="M413.2 232.4 V233.8" />
<path class="mt" d="M414.7 232.4 V233.8" />
<path class="mt" d="M416.2 232.4 V233.8" />
<path class="mt" d="M417.7 232.4 V233.8" />
<path class="mt" d="M419.7 232.4 V233.8" />
<path class="mt" d="M421.2 232.4 V233.8" />
<path class="mt" d="M422.7 232.4 V233.8" />
<path class="mt" d="M424.2 232.4 V233.8" />
<path class="mt" d="M425.7 232.4 V233.8" />
<text x="468.75" y="152.5" fill="#000" font-size="7.6" text-anchor="middle" font-weight="normal" stroke="#000" stroke-width="0.25">CTRL</text>
<text x="469.25" y="160.5" fill="#e04848" font-size="7.6" text-anchor="middle" font-weight="normal" stroke="#e04848" stroke-width="0.25">H<tspan font-size="4.71" dy="1">2</tspan><tspan dy="-1">O</tspan><tspan font-size="4.71" dy="1">2</tspan></text>
<text x="469.25" y="168.2" fill="#4040c0" font-size="7.6" text-anchor="middle" font-weight="normal" stroke="#4040c0" stroke-width="0.25">H<tspan font-size="4.71" dy="1">2</tspan><tspan dy="-1">O</tspan><tspan font-size="4.71" dy="1">2</tspan></text>
<text x="468.75" y="175.2" fill="#1c1c98" font-size="7.6" text-anchor="middle" font-weight="normal" stroke="#1c1c98" stroke-width="0.25">+NAC</text>
<text x="469.25" y="182.5" fill="#50b850" font-size="7.6" text-anchor="middle" font-weight="normal" stroke="#50b850" stroke-width="0.25">H<tspan font-size="4.71" dy="1">2</tspan><tspan dy="-1">O</tspan><tspan font-size="4.71" dy="1">2</tspan></text>
<text x="471.45" y="189.9" fill="#50b850" font-size="7.6" text-anchor="middle" font-weight="normal" textLength="31.2" lengthAdjust="spacingAndGlyphs" stroke="#50b850" stroke-width="0.25">+si-CTRL</text>
<text x="469.25" y="196.7" fill="#c840b8" font-size="7.6" text-anchor="middle" font-weight="normal" stroke="#c840b8" stroke-width="0.25">H<tspan font-size="4.71" dy="1">2</tspan><tspan dy="-1">O</tspan><tspan font-size="4.71" dy="1">2</tspan></text>
<text x="472.65" y="204.4" fill="#c840b8" font-size="7.6" text-anchor="middle" font-weight="normal" textLength="37.8" lengthAdjust="spacingAndGlyphs" stroke="#c840b8" stroke-width="0.25">+si-TNF-R1</text>
<path d="M74.5 367.89 L75.44 366.34 L76.37 364.78 L77.31 363.71 L78.14 362.27 L78.39 360.12 L78.68 359 L79.4 357.29 L80.22 355.29 L80.41 353.9 L80.28 352.11 L81.1 351.34 L81.6 349.62 L81.26 347.24 L81.6 346.29 L81.97 344.56 L81.89 343.14 L82.3 341.53 L82.27 339.55 L82.46 338.69 L83.14 336.28 L83.06 335.23 L83.69 333.77 L83.14 331.89 L83.83 330.82 L83.37 328.74 L84.1 327.8 L84.15 326.42 L84.14 324.35 L83.83 322.66 L84.28 321.56 L84.44 319.94 L84.38 318.25 L84.85 316.34 L85.41 314.45 L85.08 313.46 L85.63 312 L85.76 310.46 L85.79 309.04 L85.58 306.73 L86.08 305.92 L86.01 304.13 L86.19 302.42 L86.19 299.96 L86.94 298.69 L87.12 297.44 L87.88 295.58 L88.81 294.02 L89.74 294.8 L90.33 296.47 L90.52 298.69 L90.46 299.81 L90.38 301.89 L91.19 303.38 L91.3 304.1 L91.3 305.68 L91.74 306.74 L91.35 308.57 L92.02 309.97 L91.56 311.77 L91.79 314.04 L91.66 315.24 L92.23 316.57 L92.46 318.04 L92.71 320.02 L92.47 321.59 L92.96 322.45 L92.97 324.68 L92.73 325.77 L93.45 327.76 L93.16 329.01 L93.7 330.53 L93.51 332.45 L93.75 334.18 L93.62 335.26 L93.44 336.88 L94.11 338.28 L93.57 340.09 L94.1 341.45 L94.39 343.46 L94.1 344.81 L94.93 346.14 L95.17 348.2 L95.33 349.66 L94.89 351 L95.19 352.34 L95.5 354.47 L96.01 355.5 L95.6 356.61 L96.37 358.65 L96.28 360.12 L96.57 361.3 L97.26 362.28 L97.44 364.2 L97.83 365.56 L99 366.73 L100.16 367.89" stroke="#60c060" />
<path d="M73.88 367.43 L74.81 365.87 L75.75 364.32 L76.2 363.07 L77.42 360.87 L77.77 359.65 L78.21 357.95 L79.22 356.31 L79.19 355.26 L79.79 353.43 L79.67 351.39 L80.58 350.44 L80.35 349.06 L80.83 346.83 L81.2 345.62 L81.35 344.1 L81.6 342.94 L81.51 340.68 L81.8 339.74 L81.8 338.41 L82.57 335.92 L82.43 334.77 L82.91 332.98 L82.7 331.12 L82.98 329.77 L83.36 329.1 L83.65 327.06 L83.74 324.95 L83.52 323.88 L84.01 322.15 L84.01 320.27 L84.18 319.49 L83.73 318.08 L84.15 316.36 L84.55 314 L84.46 312.99 L84.79 311.87 L84.52 310.35 L84.9 308.68 L84.86 307.14 L85.69 304.96 L85.39 303.66 L85.85 301.72 L86.38 300.05 L86.32 298.22 L87.25 297.21 L87.26 295.11 L88.19 293.55 L89.12 294.33 L89.4 295.95 L89.9 298.22 L89.99 300.21 L90.05 301.06 L90.77 302.96 L90.79 304.01 L90.68 305.22 L90.71 306.21 L91.18 308.47 L91.08 310.26 L90.97 311.02 L90.89 312.56 L91.78 314.09 L91.61 316.1 L91.4 317.44 L92.32 319.77 L92.25 321.09 L92 322.69 L92.56 324.02 L92.08 325.62 L92.34 326.59 L92.54 328.55 L92.43 330.32 L92.75 331.4 L93.36 333.62 L93.39 334.81 L93.07 336.44 L93.67 337.63 L92.94 339.66 L93.48 340.99 L93.21 342.86 L93.51 344.18 L93.82 345.72 L94.05 346.96 L94.61 348.48 L93.97 350.08 L94.56 351.87 L94.58 353.33 L94.58 354.43 L95.41 356.56 L95.24 358.05 L95.65 359.65 L96.36 360.44 L96.83 362.97 L97.09 363.62 L97.21 365.09 L98.37 366.26 L99.54 367.43" stroke="#e05050" />
<path d="M58.33 367.43 L59.49 366.65 L60.66 365.87 L61.83 364.32 L62.99 362.76 L64.15 360.61 L65.33 359.65 L66.46 357.56 L66.68 356.41 L67.66 354.98 L67.71 353.02 L68.7 351.79 L68.66 350.63 L69.53 348.76 L69.77 347.28 L70.51 345.3 L69.9 343.61 L70.71 342.09 L70.56 340.83 L71.08 339.43 L70.92 337.73 L71.21 335.78 L71.14 335.25 L72.15 333.72 L71.93 331.09 L72.21 330.11 L72.33 328.55 L72.6 326.94 L72.95 325.41 L72.49 323.68 L73.43 322.3 L73.44 321.26 L73.57 319.21 L73.49 317.1 L73.58 316.08 L74.57 314.41 L74.77 313.29 L74.75 311.36 L74.66 309.88 L74.4 307.89 L74.7 306.81 L75.44 304.72 L75.14 303.34 L75.75 302.11 L76.17 300.87 L77.05 298.48 L76.99 297.44 L77.92 295.11 L78.86 294.64 L79.48 296.66 L79.96 298.59 L79.39 299.24 L80.49 301.19 L80.05 301.91 L80.41 303.66 L80.67 305.14 L80.88 306.43 L80.78 308.62 L80.66 309.46 L81 311.37 L81.46 312.58 L81.35 314.55 L81.46 315.56 L81.91 317.17 L82.13 319.03 L82.22 320.69 L82.6 321.98 L82.23 323.76 L82.43 325.44 L82.68 326.87 L83.15 328.27 L82.48 330.65 L83.18 331.67 L82.94 333.29 L83.67 334.6 L83.52 336.32 L83.55 337.99 L83.77 339.16 L84.37 340.75 L84.41 342.55 L84.55 344.62 L84.46 345.65 L85.09 346.93 L85.24 348.46 L84.88 349.9 L85.29 352.29 L85.54 353.43 L85.72 355.16 L86.03 356.9 L86.68 357.83 L87.1 359.65 L87.97 361.19 L88.89 362.87 L89.12 364.32 L90.44 365.48 L91.77 366.65 L94.1 367.43" stroke="#d050c8" />
<path d="M37.33 367.43 L37.55 365.87 L37.77 364.32 L38.42 362.64 L37.76 360.81 L38.42 359.65 L38.87 358.53 L38.53 356.21 L38.72 355.22 L39.57 353.36 L39.2 351.81 L39.67 350.32 L39.52 348.7 L39.66 347.04 L40.61 345.71 L40.72 344.43 L40.44 342.55 L40.91 340.99 L41.33 338.99 L41.56 338.04 L41.16 335.83 L42.03 334.45 L42 333.21 L42.49 331.98 L42.68 330.33 L43.09 328.55 L44.33 326.21 L45.58 326.68 L46.66 328.55 L47.75 330.1 L49 331.66 L50.24 333.21 L51.33 332.43 L52.42 331.66 L53.66 330.88 L54.91 330.1 L56 328.55 L57.08 326.99 L58.33 325.44 L59.57 324.66 L60.66 323.1 L61.75 321.55 L62.99 319.21 L63.64 318.07 L64.24 316.1 L64.32 314.47 L65.33 312.99 L65.44 310.86 L66.42 309.88 L66.63 308.13 L67.66 306.77 L68.42 305.66 L68.26 304.18 L68.9 302.11 L69.69 300.22 L69.99 299 L71.08 297.44 L72.33 296.66 L73.26 296.2 L73.88 298.22 L73.93 300.02 L74.66 302.11 L74.44 303.44 L74.75 304.77 L75.24 307.16 L75.44 308.33 L75.48 309.56 L76.12 311.63 L75.8 313.22 L76.04 314.94 L76.21 316.1 L76.63 318.02 L76 319.15 L76.71 320.63 L77 322.78 L76.6 323.85 L76.99 325.44 L77.45 326.95 L77.13 328.24 L77.83 330.27 L77.34 331.29 L78.19 332.68 L77.92 334.77 L78.2 336.54 L77.83 338.37 L78.79 339.82 L79 340.46 L78.69 342.34 L78.86 344.1 L79.37 345.62 L78.91 347.76 L79.73 348.7 L79.58 349.85 L79.6 352.2 L79.79 353.43 L80.11 355.06 L80.08 356.35 L80.42 358 L80.58 360.22 L80.88 361.21 L81.67 362.21 L81.92 364.32 L82.43 365.87 L83.6 366.65 L84.77 367.43" stroke="#484848" />
<path d="M43.55 367.43 L43.77 365.87 L43.99 364.32 L44.02 362.85 L44.71 361.63 L44.64 359.65 L44.66 358.69 L45.61 356.17 L45.51 354.45 L45.42 353.25 L45.89 351.87 L45.84 350.17 L46.71 349.34 L46.25 347.04 L46.82 345.76 L47.13 344.1 L47.69 342.17 L47.71 341.18 L47.91 339.87 L48.22 337.88 L49.08 336.77 L49.31 334.77 L50.55 333.21 L51.8 332.43 L52.88 334.77 L53.97 336.32 L55 334.48 L55.22 333.21 L56.46 331.66 L57.55 330.1 L57.67 328.45 L58.64 326.99 L59.88 324.66 L61.13 323.88 L62.22 322.33 L63.3 321.55 L64.55 319.21 L64.54 317.18 L65.57 315.52 L65.79 314.55 L66.14 313.42 L66.85 310.95 L66.88 309.88 L66.98 308.26 L67.87 307.24 L67.97 305.22 L68.23 304.13 L68.46 301.6 L69.21 300.55 L70.46 299 L71.7 297.44 L72.95 296.2 L73.88 298.22 L74.44 299.62 L74.81 302.11 L74.82 303.36 L75.27 305.53 L75.81 306.86 L75.75 308.33 L75.54 310.26 L75.65 311.53 L76.1 312.97 L76.64 314.25 L75.97 316.49 L76.34 317.28 L76.68 319.21 L76.87 320.6 L77.15 322.52 L76.78 323.9 L76.81 325.77 L77.23 326.81 L77.32 328.62 L77.34 330.68 L77.61 331.66 L78 333.17 L77.44 334.76 L77.69 336.68 L78.58 337.52 L78.1 339.45 L78.14 340.66 L78.55 342.54 L78.66 343.89 L78.64 345.58 L79.48 346.73 L78.79 348.69 L79.73 350.56 L79.71 352.36 L79.63 353.43 L79.6 355.08 L80.37 356.76 L80.16 358.35 L80.18 360.06 L80.88 361.21 L80.96 363.27 L81.92 364.32 L82.43 365.87 L83.6 366.65 L84.77 367.43" stroke="#5050c8" />
<path class="ax" d="M34.5 286.6 V367.8 H116.3" />
<path class="tp" d="M34.5 286.6 H92.2" />
<path class="ax" d="M116.3 343.8 V367.8" />
<path class="tk" d="M32.7 302.5 H34.5" />
<text x="31.3" y="303.9" fill="#333" font-size="4" text-anchor="end" font-weight="bold" stroke="#333" stroke-width="0.3">400</text>
<path class="tk" d="M32.7 319.4 H34.5" />
<text x="31.3" y="320.8" fill="#333" font-size="4" text-anchor="end" font-weight="bold" stroke="#333" stroke-width="0.3">300</text>
<path class="tk" d="M32.7 335.3 H34.5" />
<text x="31.3" y="336.7" fill="#333" font-size="4" text-anchor="end" font-weight="bold" stroke="#333" stroke-width="0.3">200</text>
<path class="tk" d="M32.7 352.2 H34.5" />
<text x="31.3" y="353.6" fill="#333" font-size="4" text-anchor="end" font-weight="bold" stroke="#333" stroke-width="0.3">100</text>
<path class="tk" d="M32.7 368.1 H34.5" />
<text x="31.3" y="369.5" fill="#333" font-size="4" text-anchor="end" font-weight="bold" stroke="#333" stroke-width="0.3">0</text>
<text x="0" y="0" font-size="3.8" font-weight="bold" fill="#333" stroke="#333" stroke-width="0.2" text-anchor="middle" transform="translate(18 327.2) rotate(-90)"># Cells</text>
<path class="tk" d="M56.3 367.8 V369.6" />
<text x="56.3" y="375.2" fill="#333" font-size="3.8" text-anchor="middle" font-weight="bold" stroke="#333" stroke-width="0.3">0</text>
<path class="tk" d="M78.95 367.8 V369.6" />
<text x="76.95" y="376" font-size="3.6" font-weight="bold" fill="#333" stroke="#333" stroke-width="0.2" text-anchor="start">10<tspan font-size="2.6" dy="-1.6">3</tspan></text>
<path class="tk" d="M94.75 367.8 V369.6" />
<text x="92.75" y="376" font-size="3.6" font-weight="bold" fill="#333" stroke="#333" stroke-width="0.2" text-anchor="start">10<tspan font-size="2.6" dy="-1.6">4</tspan></text>
<path class="tk" d="M109.15 367.8 V369.6" />
<text x="107.15" y="376" font-size="3.6" font-weight="bold" fill="#333" stroke="#333" stroke-width="0.2" text-anchor="start">10<tspan font-size="2.6" dy="-1.6">5</tspan></text>
<path class="mt" d="M49.3 367.8 V369.2" />
<path class="mt" d="M50.8 367.8 V369.2" />
<path class="mt" d="M52.3 367.8 V369.2" />
<path class="mt" d="M53.8 367.8 V369.2" />
<path class="mt" d="M55.3 367.8 V369.2" />
<path class="mt" d="M57.3 367.8 V369.2" />
<path class="mt" d="M58.8 367.8 V369.2" />
<path class="mt" d="M60.3 367.8 V369.2" />
<path class="mt" d="M61.8 367.8 V369.2" />
<path class="mt" d="M63.3 367.8 V369.2" />
<text x="112" y="287.5" fill="#000" font-size="7.6" text-anchor="middle" font-weight="normal" stroke="#000" stroke-width="0.25">CTRL</text>
<text x="112" y="295.15" fill="#e04848" font-size="7.6" text-anchor="middle" font-weight="normal" stroke="#e04848" stroke-width="0.25">HP</text>
<text x="112" y="303" fill="#4040c0" font-size="7.6" text-anchor="middle" font-weight="normal" stroke="#4040c0" stroke-width="0.25">HP</text>
<text x="112" y="311.15" fill="#1c1c98" font-size="7.6" text-anchor="middle" font-weight="normal" stroke="#1c1c98" stroke-width="0.25">+NAC</text>
<text x="112" y="319" fill="#50b850" font-size="7.6" text-anchor="middle" font-weight="normal" stroke="#50b850" stroke-width="0.25">HP</text>
<text x="112" y="326.2" fill="#50b850" font-size="7.6" text-anchor="middle" font-weight="normal" textLength="31.2" lengthAdjust="spacingAndGlyphs" stroke="#50b850" stroke-width="0.25">+si-CTRL</text>
<text x="112" y="332.9" fill="#c840b8" font-size="7.6" text-anchor="middle" font-weight="normal" stroke="#c840b8" stroke-width="0.25">HP</text>
<text x="113.9" y="339.9" fill="#c840b8" font-size="7.6" text-anchor="middle" font-weight="normal" textLength="37.8" lengthAdjust="spacingAndGlyphs" stroke="#c840b8" stroke-width="0.25">+si-TNF-R1</text>
<path d="M154.67 367.43 L154.82 365.87 L154.98 364.32 L155.6 363.21 L155.52 361.04 L155.81 360.21 L155.91 358.52 L156.19 356.09 L155.91 354.98 L156.29 353.45 L156.28 351.8 L156.38 350.29 L156.18 349.19 L156.71 347.24 L156.62 345.89 L157.25 344.05 L157.15 342.54 L157.48 340.89 L157.05 339.63 L158.08 338.42 L157.81 336.74 L157.99 334.72 L158.47 333.6 L158.4 331.66 L158.29 330.31 L158.99 328.75 L159.02 326.54 L159.64 325.44 L160.89 323.88 L162.44 324.66 L164 326.21 L165.55 326.99 L167.11 328.55 L168.66 330.1 L170.22 331.66 L171.77 330.88 L173.33 330.1 L174.88 328.55 L176.44 326.99 L177.41 326.19 L177.99 324.66 L178.46 323.56 L179.55 322.33 L180.34 321.2 L180.36 319.7 L181.1 317.66 L181.62 315.97 L182.56 314.14 L182.66 312.99 L183.46 311.55 L183.11 310.4 L183.9 308.33 L184 306.41 L184.58 305.07 L184.99 303.66 L185.76 302.02 L186.08 299.77 L186.24 298.71 L187.33 296.66 L188.26 295.58 L189.19 297.13 L189.79 298.7 L189.94 300.81 L190.12 302.11 L190.02 303.1 L190.63 305.22 L190.76 306.26 L191 307.85 L191.06 309.88 L190.78 311.85 L191.69 312.95 L191.13 314.98 L191.21 315.77 L191.38 318.11 L191.7 319.76 L191.99 320.77 L192.14 322.53 L192.14 324.19 L192.77 325.83 L192.14 326.46 L192.69 328.31 L192.64 330.59 L193.27 331.21 L193.08 333.21 L193.23 334.28 L193.6 336.59 L193.55 337.31 L193.67 339.45 L193.35 340.83 L194.02 342.05 L194.2 344.68 L194.17 345.65 L194.01 346.86 L194.08 348.42 L194.66 350.68 L194.8 351.49 L194.59 353.91 L195.48 355.29 L195.41 356.54 L195.69 357.89 L195.87 359.29 L195.87 360.75 L196.11 361.66 L196.26 363.7 L196.66 365.09 L197.9 367.43" stroke="#60c060" />
<path d="M154.67 367.43 L154.84 365.87 L155.02 364.32 L155.36 362.7 L155.25 360.82 L155.31 359.41 L155.73 358.18 L155.91 356.54 L155.82 355.35 L156.57 352.97 L156.11 351.5 L156.42 350.43 L156.62 348.98 L156.69 347.09 L157.15 345.65 L157.69 343.88 L157.18 342.65 L158.03 340.73 L158.02 339.02 L158.22 337.76 L158.4 336.32 L158.92 333.91 L158.99 332.36 L159.64 330.88 L160.89 330.1 L162.44 331.66 L163.44 332.83 L164 334.77 L164.48 336.86 L165.55 337.88 L166.51 339.02 L167.11 340.99 L168.1 342.46 L168.66 344.1 L169.91 346.43 L171 344.1 L172.55 342.54 L174.11 340.99 L175.11 339.45 L175.66 338.65 L176.76 337.81 L177.22 336.32 L177.53 334.3 L178.77 332.43 L179.2 330.72 L180.33 328.55 L181.18 327.39 L181.11 325.88 L181.88 323.88 L182.57 321.99 L182.88 320.4 L183.45 318.78 L183.44 317.66 L183.88 316.2 L183.65 314.34 L184.59 312.97 L184.89 311.16 L184.99 309.88 L184.9 308.75 L185.07 306.71 L185.92 305.29 L186.08 303.66 L186.45 302.25 L186.85 299.93 L187.33 298.22 L188.26 295.89 L189.19 297.44 L189.91 299.34 L190.09 300.73 L190.12 302.11 L190.56 303.11 L190.04 304.89 L190.93 306.74 L191.09 308.81 L191.06 309.88 L191.58 311.23 L191.15 313.2 L191.43 315.09 L191.67 316.52 L192.05 318.1 L192.26 319.08 L191.99 320.77 L191.93 322.5 L192.6 323.37 L192.45 325.42 L192.62 326.41 L193.11 328.07 L192.55 330.23 L192.99 332.13 L193.08 333.21 L193.13 334.76 L193.73 336.08 L193.59 337.82 L193.72 339.34 L193.53 341.13 L193.47 342.26 L193.98 344.57 L194.17 345.65 L194.7 346.85 L194.27 348.98 L195.17 350.1 L195.1 351.43 L195.33 353.63 L195.47 354.62 L195.41 356.54 L195.69 358.36 L195.84 359.44 L196.35 360.37 L196.31 362.68 L196.87 364.24 L196.66 365.09 L197.9 367.43" stroke="#e05050" />
<path d="M154.67 367.43 L154.86 365.87 L155.05 364.32 L155.65 363.2 L155.78 361.27 L155.73 360.13 L156.17 358.32 L156.37 356.4 L156.22 354.98 L156.19 353.15 L156.63 352.45 L157.19 350.31 L157.34 348.82 L156.67 347 L157.76 345.36 L157.47 344.1 L157.34 342.13 L157.5 340.89 L158.31 339.55 L158.39 338.05 L158.66 336.07 L158.71 334.77 L158.9 332.61 L159.07 331.57 L159.79 329.8 L159.95 328.55 L161.2 326.21 L162.44 326.99 L164 326.99 L165.55 325.44 L167.11 326.21 L168.66 326.99 L170.22 328.55 L171.77 327.77 L173.33 326.21 L174.88 324.66 L175.29 323.21 L176.44 322.33 L177.61 320.58 L177.99 319.21 L178.9 317.59 L179.55 316.1 L179.92 314.11 L181.1 312.22 L181.41 309.88 L182.66 308.33 L183.47 306 L183.9 304.44 L184.29 302.35 L184.99 301.33 L186.08 299.77 L187.33 297.44 L188.26 295.89 L189.19 297.44 L189.24 299.05 L189.88 300.46 L190.12 302.11 L190.27 303.33 L190.84 305.11 L190.57 307.13 L191.1 308.63 L191.06 309.88 L191.39 311.88 L191.28 313.4 L191.65 314.32 L191.29 316.35 L191.88 318.02 L191.47 319.53 L191.99 320.77 L191.73 322.35 L192.22 323.34 L192.75 324.85 L192.49 326.48 L192.31 329.03 L192.67 329.64 L193.02 332.17 L193.23 333.21 L192.99 335.27 L193.98 336.83 L193.59 337.52 L193.36 339.62 L194.38 340.99 L194.22 342.95 L194.04 343.72 L194.32 345.65 L194.21 347.42 L194.22 348.54 L195.09 350.6 L194.74 351.8 L195.45 353.9 L195.36 355.27 L195.57 356.54 L195.74 358.27 L195.6 359.78 L196.38 360.28 L196.61 362.09 L196.41 364.01 L196.81 365.09 L198.06 367.43" stroke="#d050c8" />
<path d="M153.89 367.43 L154.02 365.87 L154.16 364.32 L154.63 362.19 L153.97 360.74 L154.31 359.58 L154.68 358.45 L154.86 356.87 L154.98 354.98 L155.37 353.87 L155.48 351.63 L155.23 350.48 L155.55 348.64 L155.85 347.09 L155.7 345.46 L155.91 344.1 L156.44 342.1 L155.73 340.61 L156.42 339.69 L156.44 338.24 L156.8 336.9 L156.78 334.22 L156.84 333.21 L157.4 331.73 L157.38 330.54 L157.45 328.76 L157.93 327.25 L157.78 325.44 L158 324.1 L158.55 322.33 L159.64 323.1 L160.89 324.66 L162.44 325.44 L164 326.21 L165.55 325.44 L167.11 326.99 L168.66 327.77 L170.22 328.55 L171.77 328.55 L173.33 327.77 L174.88 326.21 L176.44 324.66 L177.3 323 L177.99 322.33 L178.62 320.8 L179.06 319.45 L179.55 317.66 L179.64 315.54 L180.22 314.42 L181.1 312.99 L181.68 311.96 L182.11 309.33 L182.66 308.33 L183.43 306.91 L183.59 304.63 L183.9 303.66 L184.29 302.03 L184.99 299.77 L185.85 298.2 L186.08 296.66 L187.01 294.64 L187.95 294.02 L188.88 295.89 L189.42 297.8 L189.54 298.69 L189.81 300.55 L189.59 302.62 L190 303.38 L190.5 305.06 L190.51 306.56 L190.75 308.33 L191.01 310.08 L190.57 311.03 L191.2 312.97 L191.41 314.32 L191.04 316.58 L191.57 317.16 L191.68 319.21 L191.77 320.67 L192.28 322.5 L192.57 323.4 L191.85 325.57 L192.83 326.75 L192.85 328.64 L192.98 330 L192.77 331.66 L192.57 332.88 L192.98 334.78 L193.46 335.75 L193.27 337.55 L193.25 339.05 L193.37 340.82 L193.64 342.91 L193.86 344.1 L194.23 345.65 L193.89 347.07 L194.51 349.2 L194.84 350.79 L194.6 351.51 L194.62 353.51 L195.1 354.98 L194.9 357.02 L195.71 357.62 L195.52 359.21 L195.88 361.1 L195.85 363.1 L196.35 364.32 L196.89 365.87 L197.43 367.43" stroke="#484848" />
<path d="M154.67 367.43 L154.84 365.87 L155.02 364.32 L155.06 363.35 L155.8 360.88 L155.49 360.04 L155.85 358.14 L155.91 356.54 L156.4 354.89 L156.11 353.28 L156.6 351.99 L156.72 349.93 L156.87 349.22 L156.5 347.56 L157 345.65 L157.4 343.7 L157.55 342.22 L157.2 341.26 L157.29 339.35 L158.08 338.39 L158.09 336.32 L158.37 334.88 L158.54 333.02 L159.23 331.42 L159.02 330.1 L159.38 328.94 L160.11 326.99 L161.2 327.77 L162.44 330.1 L163.63 331.66 L164 332.43 L165.55 333.99 L167.11 334.77 L168.66 335.54 L170.22 336.32 L171.77 337.1 L172.31 335.95 L173.33 334.77 L174.88 333.21 L176.14 331.73 L176.44 330.1 L177.35 328.98 L177.99 326.99 L178.09 325.03 L178.92 323.32 L179.55 322.33 L179.82 320.79 L180.44 318.93 L180.83 318.07 L181.1 316.1 L181.67 314.01 L181.77 312.68 L182.32 310.99 L182.66 309.88 L183.35 308.65 L183.47 307.32 L183.9 305.22 L184.77 302.89 L184.99 301.33 L185.93 299.49 L186.08 298.22 L187.33 295.89 L188.26 295.11 L189.19 296.66 L189.61 298.47 L190.27 300.78 L190.12 302.11 L190.46 303.4 L190.93 305.74 L190.73 307.01 L191.09 308.74 L191.06 309.88 L191.34 311.82 L191.6 312.55 L191.44 314.92 L191.57 315.85 L191.42 318.09 L191.56 319.05 L191.99 320.77 L191.79 321.96 L192.49 324.39 L192.05 325.42 L192.65 326.62 L192.77 328.93 L193.27 329.91 L192.51 331.94 L193.08 333.21 L193.63 334.44 L193.65 336.55 L193.51 338.41 L194.01 339.41 L194.18 341.05 L194.08 342.74 L193.64 344.44 L194.17 345.65 L194.67 346.92 L194.8 349.21 L194.34 350.62 L194.42 352.38 L195.47 353.34 L195.36 355.37 L195.41 356.54 L195.29 358 L195.97 359.47 L196.08 361.2 L195.88 361.94 L196.76 363.31 L196.66 365.09 L197.9 367.43" stroke="#5050c8" />
<path class="ax" d="M150.2 286.6 V367.7 H232.3" />
<path class="tp" d="M150.2 286.6 H199.5" />
<path class="ax" d="M232.3 344.8 V367.7" />
<path class="tk" d="M148.4 300 H150.2" />
<text x="147" y="301.4" fill="#333" font-size="4" text-anchor="end" font-weight="bold" stroke="#333" stroke-width="0.3">400</text>
<path class="tk" d="M148.4 316.9 H150.2" />
<text x="147" y="318.3" fill="#333" font-size="4" text-anchor="end" font-weight="bold" stroke="#333" stroke-width="0.3">300</text>
<path class="tk" d="M148.4 333.8 H150.2" />
<text x="147" y="335.2" fill="#333" font-size="4" text-anchor="end" font-weight="bold" stroke="#333" stroke-width="0.3">200</text>
<path class="tk" d="M148.4 351.2 H150.2" />
<text x="147" y="352.6" fill="#333" font-size="4" text-anchor="end" font-weight="bold" stroke="#333" stroke-width="0.3">100</text>
<path class="tk" d="M148.4 367.7 H150.2" />
<text x="147" y="369.1" fill="#333" font-size="4" text-anchor="end" font-weight="bold" stroke="#333" stroke-width="0.3">0</text>
<text x="0" y="0" font-size="3.8" font-weight="bold" fill="#333" stroke="#333" stroke-width="0.2" text-anchor="middle" transform="translate(133.7 327.15) rotate(-90)"># Cells</text>
<path class="tk" d="M172.7 367.7 V369.5" />
<text x="172.7" y="375.1" fill="#333" font-size="3.8" text-anchor="middle" font-weight="bold" stroke="#333" stroke-width="0.3">0</text>
<path class="tk" d="M194.95 367.7 V369.5" />
<text x="192.95" y="375.9" font-size="3.6" font-weight="bold" fill="#333" stroke="#333" stroke-width="0.2" text-anchor="start">10<tspan font-size="2.6" dy="-1.6">3</tspan></text>
<path class="tk" d="M210.25 367.7 V369.5" />
<text x="208.25" y="375.9" font-size="3.6" font-weight="bold" fill="#333" stroke="#333" stroke-width="0.2" text-anchor="start">10<tspan font-size="2.6" dy="-1.6">4</tspan></text>
<path class="tk" d="M225.25 367.7 V369.5" />
<text x="223.25" y="375.9" font-size="3.6" font-weight="bold" fill="#333" stroke="#333" stroke-width="0.2" text-anchor="start">10<tspan font-size="2.6" dy="-1.6">5</tspan></text>
<path class="mt" d="M165.7 367.7 V369.1" />
<path class="mt" d="M167.2 367.7 V369.1" />
<path class="mt" d="M168.7 367.7 V369.1" />
<path class="mt" d="M170.2 367.7 V369.1" />
<path class="mt" d="M171.7 367.7 V369.1" />
<path class="mt" d="M173.7 367.7 V369.1" />
<path class="mt" d="M175.2 367.7 V369.1" />
<path class="mt" d="M176.7 367.7 V369.1" />
<path class="mt" d="M178.2 367.7 V369.1" />
<path class="mt" d="M179.7 367.7 V369.1" />
<text x="218.1" y="288.2" fill="#000" font-size="7.6" text-anchor="middle" font-weight="normal" stroke="#000" stroke-width="0.25">CTRL</text>
<text x="218.6" y="296.2" fill="#e04848" font-size="7.6" text-anchor="middle" font-weight="normal" stroke="#e04848" stroke-width="0.25">H<tspan font-size="4.71" dy="1">2</tspan><tspan dy="-1">O</tspan><tspan font-size="4.71" dy="1">2</tspan></text>
<text x="218.6" y="303.9" fill="#4040c0" font-size="7.6" text-anchor="middle" font-weight="normal" stroke="#4040c0" stroke-width="0.25">H<tspan font-size="4.71" dy="1">2</tspan><tspan dy="-1">O</tspan><tspan font-size="4.71" dy="1">2</tspan></text>
<text x="218.1" y="310.9" fill="#1c1c98" font-size="7.6" text-anchor="middle" font-weight="normal" stroke="#1c1c98" stroke-width="0.25">+NAC</text>
<text x="218.6" y="318.2" fill="#50b850" font-size="7.6" text-anchor="middle" font-weight="normal" stroke="#50b850" stroke-width="0.25">H<tspan font-size="4.71" dy="1">2</tspan><tspan dy="-1">O</tspan><tspan font-size="4.71" dy="1">2</tspan></text>
<text x="220.8" y="325.6" fill="#50b850" font-size="7.6" text-anchor="middle" font-weight="normal" textLength="31.2" lengthAdjust="spacingAndGlyphs" stroke="#50b850" stroke-width="0.25">+si-CTRL</text>
<text x="218.6" y="332.4" fill="#c840b8" font-size="7.6" text-anchor="middle" font-weight="normal" stroke="#c840b8" stroke-width="0.25">H<tspan font-size="4.71" dy="1">2</tspan><tspan dy="-1">O</tspan><tspan font-size="4.71" dy="1">2</tspan></text>
<text x="222" y="340.1" fill="#c840b8" font-size="7.6" text-anchor="middle" font-weight="normal" textLength="37.8" lengthAdjust="spacingAndGlyphs" stroke="#c840b8" stroke-width="0.25">+si-TNF-R1</text>
<path d="M56.66 526.2 L58.22 522.32 L59.77 516.09 L61.33 509.87 L62.57 505.21 L63.66 502.1 L64.75 498.99 L65.68 494.32 L66.77 488.1 L67.86 481.88 L69.1 475.66 L70.66 470.22 L72.21 465.55 L73.77 460.88 L75.33 457 L76.57 453.11 L77.35 451.55 L78.12 452.33 L78.9 455.44 L79.68 460.11 L80.77 467.88 L81.86 478.77 L83.1 489.66 L84.35 500.54 L85.59 509.87 L87.14 517.65 L89.01 523.09 L91.65 526.2" stroke="#60c060" />
<path d="M55.88 526.2 L57.44 520.76 L59 511.43 L60.55 503.65 L62.11 497.43 L63.66 492.77 L65.22 488.1 L66.77 483.44 L68.33 478.77 L69.88 474.1 L71.44 469.44 L72.99 464.77 L74.55 460.11 L75.64 456.22 L76.57 453.11 L77.35 451.55 L78.12 452.33 L78.9 455.44 L79.68 460.11 L80.77 467.88 L81.86 478.77 L83.1 489.66 L84.35 500.54 L85.59 509.87 L87.14 517.65 L89.01 523.09 L91.65 526.2" stroke="#e05050" />
<path d="M55.11 526.2 L56.66 520.76 L58.22 514.54 L59.77 508.32 L61.02 502.1 L62.11 498.21 L63.19 495.88 L64.44 492.77 L65.68 489.66 L66.93 486.55 L68.33 481.88 L69.88 476.44 L70.97 470.99 L71.9 464.77 L72.99 460.88 L74.08 460.11 L75.33 459.33 L76.57 458.55 L77.66 457.77 L78.44 460.11 L79.37 464.77 L80.46 472.55 L81.55 481.88 L82.79 492.77 L84.03 503.65 L85.43 512.98 L86.99 519.98 L89.32 524.65 L91.65 526.2" stroke="#d050c8" />
<path d="M52.77 526.2 L54.33 520.76 L55.42 511.43 L56.66 498.99 L57.91 483.44 L59 469.44 L60.08 458.55 L61.02 452.33 L61.79 450 L62.57 450.78 L63.35 455.44 L64.13 463.22 L65.22 474.1 L66.3 486.55 L67.55 498.99 L68.79 508.32 L70.35 516.09 L72.21 520.76 L74.55 523.09 L76.88 524.18 L79.21 525.43 L81.55 526.2" stroke="#484848" />
<path d="M54.33 526.2 L55.88 520.76 L57.44 511.43 L59 500.54 L60.24 488.1 L61.33 474.1 L62.42 463.22 L63.35 455.44 L64.44 451.55 L65.37 450 L66.3 451.55 L67.24 457 L68.33 467.88 L69.1 478.77 L70.04 489.66 L70.97 500.54 L72.21 509.87 L73.77 517.65 L75.64 522.32 L77.66 524.18 L79.99 525.43 L82.32 526.2" stroke="#5050c8" />
<path class="ax" d="M37.3 444.5 V526.6 H119" />
<path class="tp" d="M37.3 444.5 H87.7" />
<path class="ax" d="M119 505.9 V526.6" />
<path class="tk" d="M35.5 449.8 H37.3" />
<text x="34.1" y="451.2" fill="#333" font-size="4" text-anchor="end" font-weight="bold" stroke="#333" stroke-width="0.3">3000</text>
<path class="tk" d="M35.5 475.8 H37.3" />
<text x="34.1" y="477.2" fill="#333" font-size="4" text-anchor="end" font-weight="bold" stroke="#333" stroke-width="0.3">2000</text>
<path class="tk" d="M35.5 501.2 H37.3" />
<text x="34.1" y="502.6" fill="#333" font-size="4" text-anchor="end" font-weight="bold" stroke="#333" stroke-width="0.3">1000</text>
<path class="tk" d="M35.5 526.6 H37.3" />
<text x="34.1" y="528" fill="#333" font-size="4" text-anchor="end" font-weight="bold" stroke="#333" stroke-width="0.3">0</text>
<text x="0" y="0" font-size="3.8" font-weight="bold" fill="#333" stroke="#333" stroke-width="0.2" text-anchor="middle" transform="translate(20.8 485.55) rotate(-90)"># Cells</text>
<path class="tk" d="M59.8 526.6 V528.4" />
<text x="59.8" y="534" fill="#333" font-size="3.8" text-anchor="middle" font-weight="bold" stroke="#333" stroke-width="0.3">0</text>
<path class="tk" d="M82.25 526.6 V528.4" />
<text x="80.25" y="534.8" font-size="3.6" font-weight="bold" fill="#333" stroke="#333" stroke-width="0.2" text-anchor="start">10<tspan font-size="2.6" dy="-1.6">3</tspan></text>
<path class="tk" d="M97.45 526.6 V528.4" />
<text x="95.45" y="534.8" font-size="3.6" font-weight="bold" fill="#333" stroke="#333" stroke-width="0.2" text-anchor="start">10<tspan font-size="2.6" dy="-1.6">4</tspan></text>
<path class="tk" d="M112.45 526.6 V528.4" />
<text x="110.45" y="534.8" font-size="3.6" font-weight="bold" fill="#333" stroke="#333" stroke-width="0.2" text-anchor="start">10<tspan font-size="2.6" dy="-1.6">5</tspan></text>
<path class="mt" d="M52.8 526.6 V528" />
<path class="mt" d="M54.3 526.6 V528" />
<path class="mt" d="M55.8 526.6 V528" />
<path class="mt" d="M57.3 526.6 V528" />
<path class="mt" d="M58.8 526.6 V528" />
<path class="mt" d="M60.8 526.6 V528" />
<path class="mt" d="M62.3 526.6 V528" />
<path class="mt" d="M63.8 526.6 V528" />
<path class="mt" d="M65.3 526.6 V528" />
<path class="mt" d="M66.8 526.6 V528" />
<text x="106" y="447.5" fill="#000" font-size="7.6" text-anchor="middle" font-weight="normal" stroke="#000" stroke-width="0.25">CTRL</text>
<text x="106" y="455.2" fill="#e04848" font-size="7.6" text-anchor="middle" font-weight="normal" stroke="#e04848" stroke-width="0.25">HP</text>
<text x="106" y="463.25" fill="#4040c0" font-size="7.6" text-anchor="middle" font-weight="normal" stroke="#4040c0" stroke-width="0.25">HP</text>
<text x="106" y="471.15" fill="#1c1c98" font-size="7.6" text-anchor="middle" font-weight="normal" stroke="#1c1c98" stroke-width="0.25">+NAC</text>
<text x="106" y="479.1" fill="#50b850" font-size="7.6" text-anchor="middle" font-weight="normal" stroke="#50b850" stroke-width="0.25">HP</text>
<text x="110" y="486.65" fill="#50b850" font-size="7.6" text-anchor="middle" font-weight="normal" stroke="#50b850" stroke-width="0.25">TNFα(-/-)</text>
<text x="106" y="494.25" fill="#c840b8" font-size="7.6" text-anchor="middle" font-weight="normal" stroke="#c840b8" stroke-width="0.25">HP</text>
<text x="111" y="501.75" fill="#c840b8" font-size="7.6" text-anchor="middle" font-weight="normal" stroke="#c840b8" stroke-width="0.25">TNF-R1(-/-)</text>
<path d="M172.11 525.43 L173.35 517.65 L174.44 508.32 L175.53 500.54 L176.77 495.88 L178.02 489.66 L179.26 484.99 L180.66 482.66 L182.22 481.88 L183.77 481.1 L185.33 480.33 L186.88 477.21 L187.97 470.99 L188.9 463.22 L189.99 457 L191.08 453.11 L192.01 451.55 L192.95 453.11 L193.88 460.11 L194.81 470.99 L195.75 484.99 L196.68 498.99 L197.92 511.43 L199.48 519.98 L201.66 524.65 L203.99 525.43" stroke="#60c060" />
<path d="M173.66 525.43 L175.22 520.76 L176.77 516.09 L178.33 508.32 L179.57 500.54 L180.66 492.77 L181.75 486.55 L182.99 483.44 L184.55 481.88 L186.1 481.1 L187.66 478.77 L188.9 474.1 L189.99 467.88 L191.08 460.11 L192.33 453.89 L193.57 450 L194.66 449.22 L195.75 452.33 L196.68 458.55 L197.77 469.44 L198.86 481.88 L199.79 492.77 L200.72 502.1 L201.66 509.87 L202.9 517.65 L204.46 523.09 L206.32 525.43" stroke="#e05050" />
<path d="M173.66 525.43 L175.22 520.76 L176.77 514.54 L178.33 506.76 L179.88 497.43 L181.44 489.66 L182.99 484.99 L184.55 483.12 L186.1 481.88 L187.66 480.33 L188.9 475.66 L189.99 469.44 L191.08 461.66 L192.33 455.44 L193.57 451.55 L194.66 450.47 L195.75 453.11 L196.68 459.33 L197.77 469.44 L198.86 481.88 L199.79 492.77 L200.72 502.1 L201.66 509.87 L202.9 517.65 L204.46 523.09 L206.32 525.43" stroke="#d050c8" />
<path d="M172.11 525.43 L173.35 520.76 L174.44 512.98 L175.53 502.1 L176.46 489.66 L177.4 474.1 L178.33 461.66 L179.26 453.89 L180.19 450 L181.13 450.78 L181.91 455.44 L182.68 464.77 L183.62 477.21 L184.55 489.66 L185.64 500.54 L186.88 509.87 L188.44 516.09 L190.46 519.98 L193.1 522.32 L196.21 523.87 L200.1 525.43" stroke="#484848" />
<path d="M172.88 525.43 L174.44 520.76 L175.53 512.98 L176.77 502.1 L178.02 488.1 L179.11 474.1 L180.19 461.66 L181.44 453.89 L182.68 450 L183.62 450.78 L184.55 453.89 L185.48 460.11 L186.42 469.44 L187.35 480.33 L188.28 489.66 L189.21 495.88 L190.46 500.54 L192.01 503.65 L193.57 506.76 L195.12 509.87 L196.68 512.98 L198.23 516.87 L200.1 520.76 L202.43 523.87 L204.77 525.43" stroke="#5050c8" />
<path class="ax" d="M154.8 444.5 V526.6 H236.6" />
<path class="tp" d="M154.8 444.5 H209.8" />
<path class="ax" d="M236.6 506.5 V526.6" />
<path class="tk" d="M153 447 H154.8" />
<text x="151.6" y="448.4" fill="#333" font-size="4" text-anchor="end" font-weight="bold" stroke="#333" stroke-width="0.3">3000</text>
<path class="tk" d="M153 473.7 H154.8" />
<text x="151.6" y="475.1" fill="#333" font-size="4" text-anchor="end" font-weight="bold" stroke="#333" stroke-width="0.3">2000</text>
<path class="tk" d="M153 500 H154.8" />
<text x="151.6" y="501.4" fill="#333" font-size="4" text-anchor="end" font-weight="bold" stroke="#333" stroke-width="0.3">1000</text>
<path class="tk" d="M153 526.6 H154.8" />
<text x="151.6" y="528" fill="#333" font-size="4" text-anchor="end" font-weight="bold" stroke="#333" stroke-width="0.3">0</text>
<text x="0" y="0" font-size="3.8" font-weight="bold" fill="#333" stroke="#333" stroke-width="0.2" text-anchor="middle" transform="translate(138.3 485.55) rotate(-90)"># Cells</text>
<path class="tk" d="M177.3 526.6 V528.4" />
<text x="177.3" y="534" fill="#333" font-size="3.8" text-anchor="middle" font-weight="bold" stroke="#333" stroke-width="0.3">0</text>
<path class="tk" d="M200.05 526.6 V528.4" />
<text x="198.05" y="534.8" font-size="3.6" font-weight="bold" fill="#333" stroke="#333" stroke-width="0.2" text-anchor="start">10<tspan font-size="2.6" dy="-1.6">3</tspan></text>
<path class="tk" d="M214.95 526.6 V528.4" />
<text x="212.95" y="534.8" font-size="3.6" font-weight="bold" fill="#333" stroke="#333" stroke-width="0.2" text-anchor="start">10<tspan font-size="2.6" dy="-1.6">4</tspan></text>
<path class="tk" d="M230.05 526.6 V528.4" />
<text x="228.05" y="534.8" font-size="3.6" font-weight="bold" fill="#333" stroke="#333" stroke-width="0.2" text-anchor="start">10<tspan font-size="2.6" dy="-1.6">5</tspan></text>
<path class="mt" d="M170.3 526.6 V528" />
<path class="mt" d="M171.8 526.6 V528" />
<path class="mt" d="M173.3 526.6 V528" />
<path class="mt" d="M174.8 526.6 V528" />
<path class="mt" d="M176.3 526.6 V528" />
<path class="mt" d="M178.3 526.6 V528" />
<path class="mt" d="M179.8 526.6 V528" />
<path class="mt" d="M181.3 526.6 V528" />
<path class="mt" d="M182.8 526.6 V528" />
<path class="mt" d="M184.3 526.6 V528" />
<clipPath id="cl226"><rect x="0" y="0" width="248" height="559"/></clipPath><g clip-path="url(#cl226)">
<text x="226" y="447.5" fill="#000" font-size="7.6" text-anchor="middle" font-weight="normal" stroke="#000" stroke-width="0.25">CTRL</text>
<text x="226" y="455.4" fill="#e04848" font-size="7.6" text-anchor="middle" font-weight="normal" stroke="#e04848" stroke-width="0.25">H<tspan font-size="4.71" dy="1">2</tspan><tspan dy="-1">O</tspan><tspan font-size="4.71" dy="1">2</tspan></text>
<text x="226" y="462.75" fill="#4040c0" font-size="7.6" text-anchor="middle" font-weight="normal" stroke="#4040c0" stroke-width="0.25">H<tspan font-size="4.71" dy="1">2</tspan><tspan dy="-1">O</tspan><tspan font-size="4.71" dy="1">2</tspan></text>
<text x="226" y="470.05" fill="#1c1c98" font-size="7.6" text-anchor="middle" font-weight="normal" stroke="#1c1c98" stroke-width="0.25">+NAC</text>
<text x="226" y="478.45" fill="#50b850" font-size="7.6" text-anchor="middle" font-weight="normal" stroke="#50b850" stroke-width="0.25">H<tspan font-size="4.71" dy="1">2</tspan><tspan dy="-1">O</tspan><tspan font-size="4.71" dy="1">2</tspan></text>
<text x="228.2" y="485.8" fill="#50b850" font-size="7.6" text-anchor="middle" font-weight="normal" stroke="#50b850" stroke-width="0.25">TNFα(-/-)</text>
<text x="226" y="493.95" fill="#c840b8" font-size="7.6" text-anchor="middle" font-weight="normal" stroke="#c840b8" stroke-width="0.25">H<tspan font-size="4.71" dy="1">2</tspan><tspan dy="-1">O</tspan><tspan font-size="4.71" dy="1">2</tspan></text>
<text x="229.2" y="501.85" fill="#c840b8" font-size="7.6" text-anchor="middle" font-weight="normal" stroke="#c840b8" stroke-width="0.25">TNF-R1(-/-)</text>
</g>
<path d="M320.66 527.76 L322.22 522.32 L323.77 514.54 L325.33 503.65 L326.88 489.66 L328.13 474.1 L329.21 464.77 L330.46 458.55 L331.7 456.22 L332.95 455.75 L334.19 457 L335.44 460.11 L336.68 464.77 L337.92 470.99 L339.32 478.77 L340.72 488.1 L342.12 497.43 L343.52 506.76 L345.08 514.54 L346.63 520.76 L348.19 524.65 L350.21 526.98 L351.77 527.76" stroke="#60c060" />
<path d="M321.44 527.76 L322.99 522.32 L324.55 514.54 L326.1 503.65 L327.66 489.66 L328.9 474.1 L329.99 464.77 L331.08 457 L332.33 453.11 L333.57 451.55 L334.66 452.33 L335.9 455.44 L337.3 460.11 L338.55 466.33 L339.79 474.1 L341.03 483.44 L342.43 492.77 L343.99 502.1 L345.54 511.43 L347.1 519.21 L348.65 523.87 L350.68 526.98 L352.54 527.76" stroke="#d050c8" />
<path d="M319.88 527.76 L321.44 522.32 L322.99 514.54 L324.55 503.65 L326.1 489.66 L327.66 474.1 L328.9 463.22 L329.99 456.22 L331.08 452.64 L332.33 450.78 L333.57 450.47 L334.81 451.55 L336.06 454.66 L337.3 458.55 L338.55 464.77 L339.79 472.55 L341.03 481.88 L342.43 491.21 L343.99 500.54 L345.54 509.87 L347.1 517.65 L348.65 523.09 L350.21 526.2 L352.54 527.76" stroke="#e05050" />
<path d="M313.66 527.76 L315.22 522.32 L316.77 512.98 L318.33 500.54 L319.88 484.99 L321.44 469.44 L322.99 457 L324.24 450.78 L325.33 450.47 L326.1 452.33 L327.04 458.55 L327.97 469.44 L328.9 483.44 L329.99 497.43 L331.08 508.32 L332.33 516.87 L333.88 523.09 L336.21 526.98 L338.55 527.76" stroke="#484848" />
<path d="M314.44 527.76 L316 522.32 L317.55 512.98 L319.11 500.54 L320.66 484.99 L322.22 469.44 L323.77 457 L324.86 451.55 L326.1 450.47 L327.04 452.33 L327.97 458.55 L328.9 469.44 L329.99 483.44 L331.08 497.43 L332.33 508.32 L333.57 516.87 L335.12 523.09 L337.3 526.98 L339.32 527.76" stroke="#5050c8" />
<path class="ax" d="M294.5 445.6 V527.4 H376.1" />
<path class="tp" d="M294.5 445.6 H349" />
<path class="ax" d="M376.1 508 V527.4" />
<path class="tk" d="M292.7 460 H294.5" />
<text x="291.3" y="461.4" fill="#333" font-size="4" text-anchor="end" font-weight="bold" stroke="#333" stroke-width="0.3">3000</text>
<path class="tk" d="M292.7 482.6 H294.5" />
<text x="291.3" y="484" fill="#333" font-size="4" text-anchor="end" font-weight="bold" stroke="#333" stroke-width="0.3">2000</text>
<path class="tk" d="M292.7 504.8 H294.5" />
<text x="291.3" y="506.2" fill="#333" font-size="4" text-anchor="end" font-weight="bold" stroke="#333" stroke-width="0.3">1000</text>
<path class="tk" d="M292.7 527.4 H294.5" />
<text x="291.3" y="528.8" fill="#333" font-size="4" text-anchor="end" font-weight="bold" stroke="#333" stroke-width="0.3">0</text>
<text x="0" y="0" font-size="3.8" font-weight="bold" fill="#333" stroke="#333" stroke-width="0.2" text-anchor="middle" transform="translate(278 486.5) rotate(-90)"># Cells</text>
<path class="tk" d="M316.2 527.4 V529.2" />
<text x="316.2" y="534.8" fill="#333" font-size="3.8" text-anchor="middle" font-weight="bold" stroke="#333" stroke-width="0.3">0</text>
<path class="tk" d="M339.55 527.4 V529.2" />
<text x="337.55" y="535.6" font-size="3.6" font-weight="bold" fill="#333" stroke="#333" stroke-width="0.2" text-anchor="start">10<tspan font-size="2.6" dy="-1.6">3</tspan></text>
<path class="tk" d="M354.25 527.4 V529.2" />
<text x="352.25" y="535.6" font-size="3.6" font-weight="bold" fill="#333" stroke="#333" stroke-width="0.2" text-anchor="start">10<tspan font-size="2.6" dy="-1.6">4</tspan></text>
<path class="tk" d="M368.85 527.4 V529.2" />
<text x="366.85" y="535.6" font-size="3.6" font-weight="bold" fill="#333" stroke="#333" stroke-width="0.2" text-anchor="start">10<tspan font-size="2.6" dy="-1.6">5</tspan></text>
<path class="mt" d="M309.2 527.4 V528.8" />
<path class="mt" d="M310.7 527.4 V528.8" />
<path class="mt" d="M312.2 527.4 V528.8" />
<path class="mt" d="M313.7 527.4 V528.8" />
<path class="mt" d="M315.2 527.4 V528.8" />
<path class="mt" d="M317.2 527.4 V528.8" />
<path class="mt" d="M318.7 527.4 V528.8" />
<path class="mt" d="M320.2 527.4 V528.8" />
<path class="mt" d="M321.7 527.4 V528.8" />
<path class="mt" d="M323.2 527.4 V528.8" />
<text x="367" y="449.7" fill="#000" font-size="7.6" text-anchor="middle" font-weight="normal" stroke="#000" stroke-width="0.25">CTRL</text>
<text x="367" y="457.4" fill="#e04848" font-size="7.6" text-anchor="middle" font-weight="normal" stroke="#e04848" stroke-width="0.25">HP</text>
<text x="367" y="465.45" fill="#4040c0" font-size="7.6" text-anchor="middle" font-weight="normal" stroke="#4040c0" stroke-width="0.25">HP</text>
<text x="367" y="473.35" fill="#1c1c98" font-size="7.6" text-anchor="middle" font-weight="normal" stroke="#1c1c98" stroke-width="0.25">+NAC</text>
<text x="367" y="481.3" fill="#50b850" font-size="7.6" text-anchor="middle" font-weight="normal" stroke="#50b850" stroke-width="0.25">HP</text>
<text x="371" y="488.85" fill="#50b850" font-size="7.6" text-anchor="middle" font-weight="normal" stroke="#50b850" stroke-width="0.25">TNFα(-/-)</text>
<text x="367" y="496.45" fill="#c840b8" font-size="7.6" text-anchor="middle" font-weight="normal" stroke="#c840b8" stroke-width="0.25">HP</text>
<text x="372" y="503.95" fill="#c840b8" font-size="7.6" text-anchor="middle" font-weight="normal" stroke="#c840b8" stroke-width="0.25">TNF-R1(-/-)</text>
<path d="M437.88 527.76 L439.44 522.32 L440.99 514.54 L442.55 503.65 L444.1 489.66 L445.35 474.1 L446.44 463.22 L447.53 456.22 L448.77 452.64 L450.01 451.55 L451.26 452.02 L452.5 454.66 L453.75 460.11 L454.99 467.88 L456.23 477.21 L457.48 488.1 L458.88 498.99 L460.43 509.87 L461.99 517.65 L464.01 523.87 L466.19 526.98 L468.21 527.76" stroke="#60c060" />
<path d="M437.11 527.76 L438.66 522.32 L440.22 514.54 L441.77 503.65 L443.33 489.66 L444.88 474.1 L445.97 463.22 L447.21 456.22 L448.46 452.64 L449.7 451.09 L450.95 451.09 L452.19 453.11 L453.44 457.77 L454.68 464.77 L455.92 474.1 L457.17 484.99 L458.41 495.88 L459.97 506.76 L461.52 516.09 L463.54 523.09 L465.88 526.98 L468.21 527.76" stroke="#d050c8" />
<path d="M437.88 527.76 L439.44 522.32 L440.99 514.54 L442.55 503.65 L444.1 489.66 L445.66 474.1 L446.9 463.22 L447.99 456.22 L449.08 452.64 L450.33 451.09 L451.57 450.78 L452.81 452.33 L454.06 455.44 L455.3 460.11 L456.55 466.33 L457.79 474.1 L459.03 483.44 L460.43 492.77 L461.99 502.1 L463.54 511.43 L465.1 519.21 L466.65 523.87 L468.68 526.98 L470.54 527.76" stroke="#e05050" />
<path d="M430.88 527.76 L432.44 522.32 L434 512.98 L435.55 500.54 L437.11 484.99 L438.66 469.44 L440.22 457 L441.3 451.55 L442.24 450.47 L443.17 452.33 L444.1 458.55 L445.04 469.44 L445.97 483.44 L447.06 497.43 L448.15 508.32 L449.39 516.87 L450.95 523.09 L453.12 526.98 L455.77 527.76" stroke="#484848" />
<path d="M432.44 527.76 L434 522.32 L435.55 512.98 L437.11 500.54 L438.66 484.99 L440.22 469.44 L441.77 457 L442.86 451.55 L444.1 450.78 L445.04 452.33 L445.97 458.55 L446.9 469.44 L447.99 483.44 L449.08 497.43 L450.33 508.32 L451.57 516.87 L453.12 523.09 L455.3 526.98 L457.32 527.76" stroke="#5050c8" />
<path class="ax" d="M413.5 445.4 V527.4 H494.4" />
<path class="tp" d="M413.5 445.4 H473.3" />
<path class="ax" d="M494.4 508 V527.4" />
<path class="tk" d="M411.7 457.8 H413.5" />
<text x="410.3" y="459.2" fill="#333" font-size="4" text-anchor="end" font-weight="bold" stroke="#333" stroke-width="0.3">3000</text>
<path class="tk" d="M411.7 481.1 H413.5" />
<text x="410.3" y="482.5" fill="#333" font-size="4" text-anchor="end" font-weight="bold" stroke="#333" stroke-width="0.3">2000</text>
<path class="tk" d="M411.7 503.8 H413.5" />
<text x="410.3" y="505.2" fill="#333" font-size="4" text-anchor="end" font-weight="bold" stroke="#333" stroke-width="0.3">1000</text>
<path class="tk" d="M411.7 527.4 H413.5" />
<text x="410.3" y="528.8" fill="#333" font-size="4" text-anchor="end" font-weight="bold" stroke="#333" stroke-width="0.3">0</text>
<text x="0" y="0" font-size="3.8" font-weight="bold" fill="#333" stroke="#333" stroke-width="0.2" text-anchor="middle" transform="translate(397 486.4) rotate(-90)"># Cells</text>
<path class="tk" d="M435.4 527.4 V529.2" />
<text x="435.4" y="534.8" fill="#333" font-size="3.8" text-anchor="middle" font-weight="bold" stroke="#333" stroke-width="0.3">0</text>
<path class="tk" d="M457.95 527.4 V529.2" />
<text x="455.95" y="535.6" font-size="3.6" font-weight="bold" fill="#333" stroke="#333" stroke-width="0.2" text-anchor="start">10<tspan font-size="2.6" dy="-1.6">3</tspan></text>
<path class="tk" d="M473.05 527.4 V529.2" />
<text x="471.05" y="535.6" font-size="3.6" font-weight="bold" fill="#333" stroke="#333" stroke-width="0.2" text-anchor="start">10<tspan font-size="2.6" dy="-1.6">4</tspan></text>
<path class="tk" d="M488.15 527.4 V529.2" />
<text x="486.15" y="535.6" font-size="3.6" font-weight="bold" fill="#333" stroke="#333" stroke-width="0.2" text-anchor="start">10<tspan font-size="2.6" dy="-1.6">5</tspan></text>
<path class="mt" d="M428.4 527.4 V528.8" />
<path class="mt" d="M429.9 527.4 V528.8" />
<path class="mt" d="M431.4 527.4 V528.8" />
<path class="mt" d="M432.9 527.4 V528.8" />
<path class="mt" d="M434.4 527.4 V528.8" />
<path class="mt" d="M436.4 527.4 V528.8" />
<path class="mt" d="M437.9 527.4 V528.8" />
<path class="mt" d="M439.4 527.4 V528.8" />
<path class="mt" d="M440.9 527.4 V528.8" />
<path class="mt" d="M442.4 527.4 V528.8" />
<text x="489.4" y="449.3" fill="#000" font-size="7.6" text-anchor="middle" font-weight="normal" stroke="#000" stroke-width="0.25">CTRL</text>
<text x="489.4" y="457.2" fill="#e04848" font-size="7.6" text-anchor="middle" font-weight="normal" stroke="#e04848" stroke-width="0.25">H<tspan font-size="4.71" dy="1">2</tspan><tspan dy="-1">O</tspan><tspan font-size="4.71" dy="1">2</tspan></text>
<text x="489.4" y="464.55" fill="#4040c0" font-size="7.6" text-anchor="middle" font-weight="normal" stroke="#4040c0" stroke-width="0.25">H<tspan font-size="4.71" dy="1">2</tspan><tspan dy="-1">O</tspan><tspan font-size="4.71" dy="1">2</tspan></text>
<text x="489.4" y="471.85" fill="#1c1c98" font-size="7.6" text-anchor="middle" font-weight="normal" stroke="#1c1c98" stroke-width="0.25">+NAC</text>
<text x="489.4" y="480.25" fill="#50b850" font-size="7.6" text-anchor="middle" font-weight="normal" stroke="#50b850" stroke-width="0.25">H<tspan font-size="4.71" dy="1">2</tspan><tspan dy="-1">O</tspan><tspan font-size="4.71" dy="1">2</tspan></text>
<text x="491.6" y="487.6" fill="#50b850" font-size="7.6" text-anchor="middle" font-weight="normal" stroke="#50b850" stroke-width="0.25">TNFα(-/-)</text>
<text x="489.4" y="495.75" fill="#c840b8" font-size="7.6" text-anchor="middle" font-weight="normal" stroke="#c840b8" stroke-width="0.25">H<tspan font-size="4.71" dy="1">2</tspan><tspan dy="-1">O</tspan><tspan font-size="4.71" dy="1">2</tspan></text>
<text x="492.6" y="503.65" fill="#c840b8" font-size="7.6" text-anchor="middle" font-weight="normal" stroke="#c840b8" stroke-width="0.25">TNF-R1(-/-)</text>
<text x="5.5" y="14.6" fill="#111" font-size="11.5" text-anchor="start" font-weight="bold" stroke="#111" stroke-width="0.35">A</text>
<text x="244.6" y="11.3" fill="#111" font-size="11" text-anchor="start" font-weight="bold" stroke="#111" stroke-width="0.35">B</text>
<text x="5" y="149" fill="#111" font-size="11" text-anchor="start" font-weight="bold" stroke="#111" stroke-width="0.35">C</text>
<text x="251.3" y="145.2" fill="#111" font-size="11" text-anchor="start" font-weight="bold" stroke="#111" stroke-width="0.35">D</text>
<text x="7" y="285" fill="#111" font-size="11" text-anchor="start" font-weight="bold" stroke="#111" stroke-width="0.35">E</text>
<text x="15" y="430.9" fill="#111" font-size="11" text-anchor="start" font-weight="bold" stroke="#111" stroke-width="0.35">F</text>
<text x="272.8" y="432.3" fill="#111" font-size="11" text-anchor="start" font-weight="bold" stroke="#111" stroke-width="0.35">G</text>
<text x="110.9" y="16.2" fill="#222" font-size="11.32" text-anchor="start" font-weight="normal" stroke="#222" stroke-width="0.22">HUVEC</text>
<text x="357.7" y="13.6" fill="#222" font-size="11.32" text-anchor="start" font-weight="normal" stroke="#222" stroke-width="0.22">HUVEC</text>
<text x="115" y="145" fill="#222" font-size="11.32" text-anchor="start" font-weight="normal" stroke="#222" stroke-width="0.22">HUVEC</text>
<text x="357.5" y="146.2" fill="#222" font-size="11.32" text-anchor="start" font-weight="normal" stroke="#222" stroke-width="0.22">HUVEC</text>
<text x="113.1" y="278.2" fill="#222" font-size="11.32" text-anchor="start" font-weight="normal" stroke="#222" stroke-width="0.22">HUVEC</text>
<text x="96.2" y="434.4" fill="#222" font-size="11.37" text-anchor="start" font-weight="normal" stroke="#222" stroke-width="0.22">Mouse Platelet</text>
<text x="355.3" y="437" fill="#222" font-size="11.37" text-anchor="start" font-weight="normal" stroke="#222" stroke-width="0.22">Mouse Platelet</text>
<text x="89.3" y="125" fill="#222" font-size="11.63" text-anchor="start" font-weight="normal" stroke="#222" stroke-width="0.22">CD62E (E-selectin)</text>
<text x="317.6" y="126.9" fill="#222" font-size="11.53" text-anchor="start" font-weight="normal" stroke="#222" stroke-width="0.22">CD62P (P-selectin)</text>
<text x="91.9" y="256.5" fill="#222" font-size="11.49" text-anchor="start" font-weight="normal" stroke="#222" stroke-width="0.22">CD54 (ICAM-1)</text>
<text x="333.4" y="258" fill="#222" font-size="11.63" text-anchor="start" font-weight="normal" stroke="#222" stroke-width="0.22">CD106 (VCAM-1)</text>
<text x="116.8" y="388.8" fill="#222" font-size="11.22" text-anchor="start" font-weight="normal" stroke="#222" stroke-width="0.22">VWF</text>
<text x="91.6" y="548.5" fill="#222" font-size="11.53" text-anchor="start" font-weight="normal" stroke="#222" stroke-width="0.22">CD62P (P-selectin)</text>
<text x="370.7" y="546.8" fill="#222" font-size="11.42" text-anchor="start" font-weight="normal" stroke="#222" stroke-width="0.22">GPIIbIIIa</text>
</svg>
</body></html>
